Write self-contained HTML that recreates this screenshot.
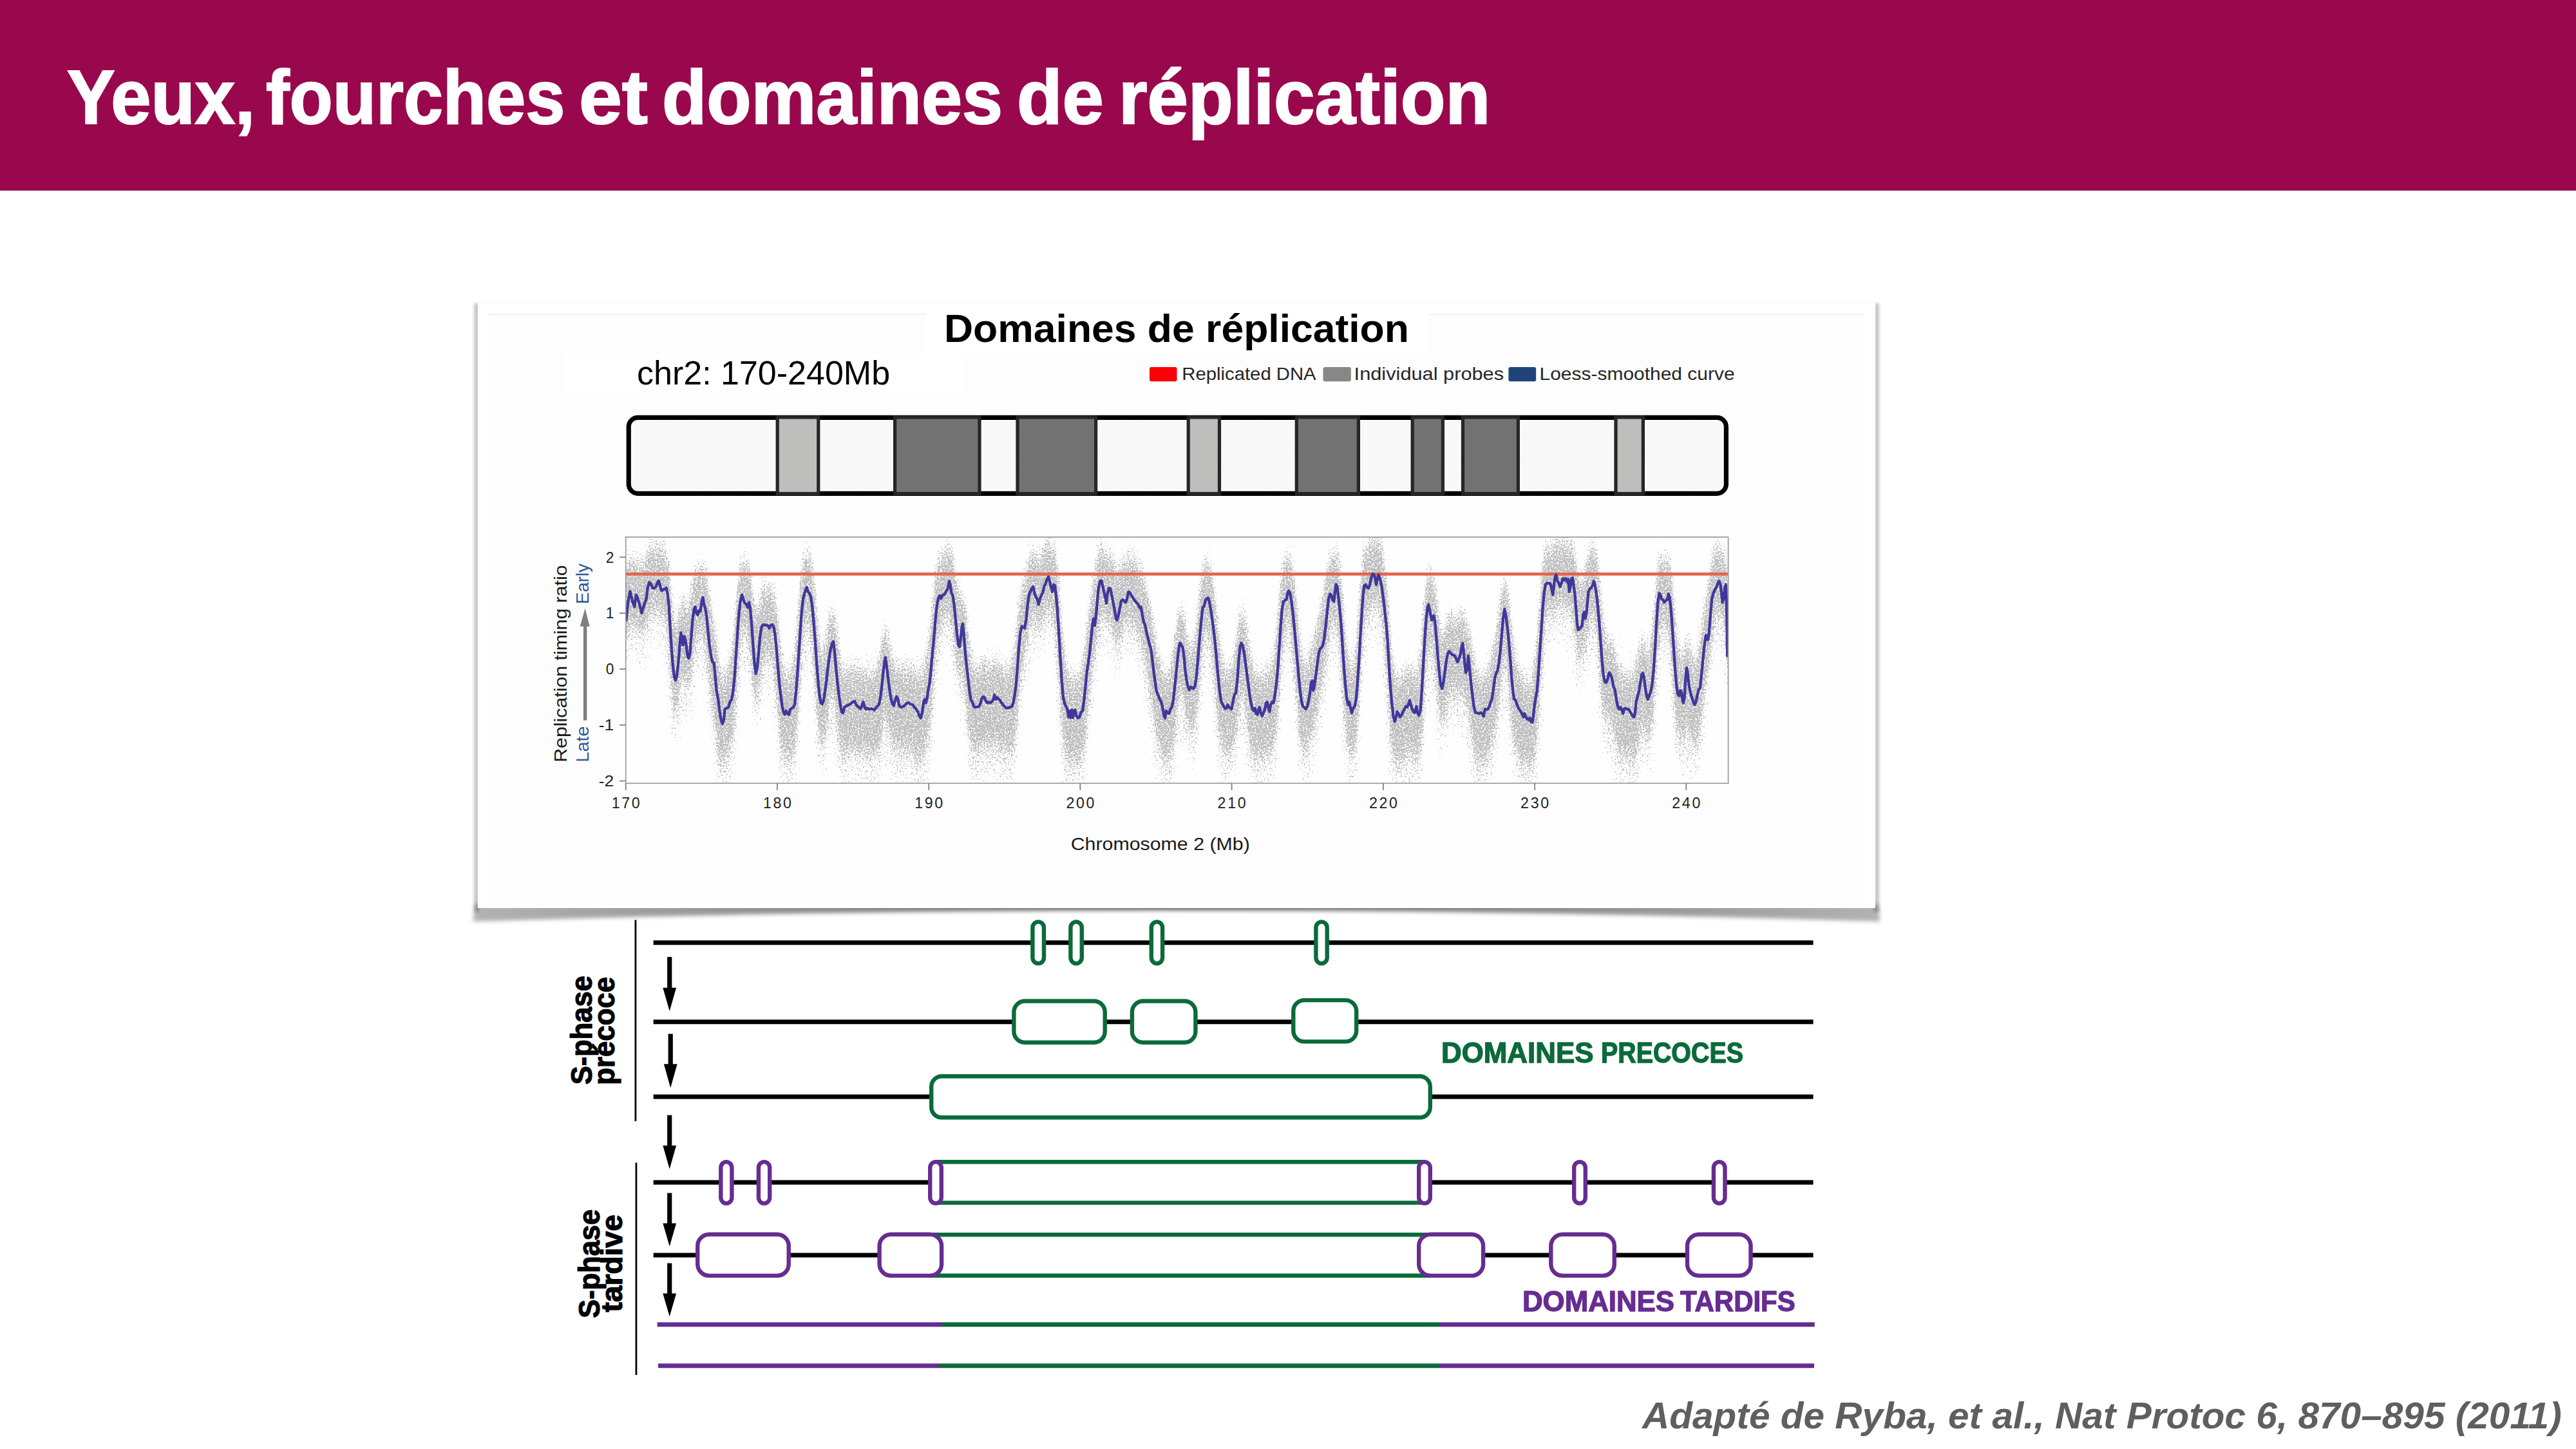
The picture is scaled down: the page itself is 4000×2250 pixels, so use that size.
<!DOCTYPE html>
<html lang="fr"><head><meta charset="utf-8"><title>Yeux, fourches et domaines de réplication</title>
<style>
html,body{margin:0;padding:0;background:#fff;}
body{width:4000px;height:2250px;position:relative;overflow:hidden;font-family:"Liberation Sans",sans-serif;}
.abs{position:absolute;white-space:nowrap;transform-origin:0 0;line-height:1;}
#hdr{left:0;top:0;width:4000px;height:296px;background:#99084d;}
.tw{font-weight:bold;color:#fff;-webkit-text-stroke:2.2px #fff;}
#tw1{left:104.21px;top:91.61px;font-size:118px;transform:scaleX(0.9470);}
#tw2{left:412.64px;top:91.61px;font-size:118px;transform:scaleX(0.9317);}
#tw3{left:898.82px;top:91.61px;font-size:118px;transform:scaleX(1.0188);}
#tw4{left:1027.86px;top:91.61px;font-size:118px;transform:scaleX(0.9605);}
#tw5{left:1578.99px;top:91.61px;font-size:118px;transform:scaleX(0.9786);}
#tw6{left:1737.23px;top:91.61px;font-size:118px;transform:scaleX(0.9676);}
#panel{left:742px;top:470px;width:2170px;height:940px;background:#fff;}
#inner{left:758px;top:487px;width:2137px;height:907px;background:#fdfdfd;border-top:2px solid #f1f1f1;box-sizing:border-box;}
#ptitle{left:1465.80px;top:479.96px;font-size:61px;transform:scaleX(1.0239);font-weight:bold;color:#000;}
#chr{left:989.38px;top:554.31px;font-size:51.5px;transform:scaleX(1.0096);color:#000;}
.dp{font-weight:bold;color:#0b6a3b;-webkit-text-stroke:1.3px #0b6a3b;}
#dp1{left:2237.99px;top:1614.09px;font-size:43.6px;transform:scaleX(1.0062);}
#dp2{left:2486.09px;top:1614.09px;font-size:43.6px;transform:scaleX(0.9028);}
.dt{font-weight:bold;color:#662d91;-webkit-text-stroke:1.3px #662d91;}
#dt1{left:2364.49px;top:1999.99px;font-size:43.6px;transform:scaleX(1.0045);}
#dt2{left:2609.40px;top:1999.99px;font-size:43.6px;transform:scaleX(0.9627);}
#cite{left:2550.27px;top:2171.17px;font-size:56.5px;transform:scaleX(1.0364);font-weight:bold;font-style:italic;color:#5f5f5f;}
svg{position:absolute;left:0;top:0;}
svg text{font-family:"Liberation Sans",sans-serif;}
</style></head><body>
<div class="abs" id="hdr"></div>
<div id="title"><span class="abs tw" id="tw1">Yeux,</span> <span class="abs tw" id="tw2">fourches</span> <span class="abs tw" id="tw3">et</span> <span class="abs tw" id="tw4">domaines</span> <span class="abs tw" id="tw5">de</span> <span class="abs tw" id="tw6">réplication</span> </div>

<svg width="4000" height="2250" viewBox="0 0 4000 2250" style="z-index:0">
<defs>
<filter id="shb" x="-5%" y="-50%" width="110%" height="300%"><feGaussianBlur stdDeviation="3.2"/></filter>
<filter id="shs" x="-200%" y="-5%" width="500%" height="110%"><feGaussianBlur stdDeviation="2.2"/></filter>
<linearGradient id="shg" x1="0" x2="1" y1="0" y2="0">
<stop offset="0" stop-color="#000" stop-opacity="0.30"/><stop offset="0.5" stop-color="#000" stop-opacity="0.62"/><stop offset="1" stop-color="#000" stop-opacity="0.30"/></linearGradient>
</defs>
<!-- curved panel shadow -->
<path d="M737 1404 L2917 1404 L2919 1431 Q1827 1396 735 1431 Z" fill="url(#shg)" filter="url(#shb)"/>
<rect x="736" y="471" width="8" height="945" fill="#000" opacity="0.22" filter="url(#shs)"/>
<rect x="742" y="469.4" width="2170" height="1.2" fill="#000" opacity="0.07"/>
<rect x="2910" y="471" width="8" height="945" fill="#000" opacity="0.22" filter="url(#shs)"/>
</svg>

<div class="abs" id="panel"></div>
<div class="abs" id="inner"></div>
<div class="abs" style="left:1437px;top:471px;width:781px;height:78px;background:#fff"></div>
<div class="abs" style="left:878px;top:549px;width:617px;height:60px;background:#fff"></div>
<div class="abs" id="ptitle">Domaines de réplication</div>
<div class="abs" id="chr">chr2: 170-240Mb</div>

<svg width="4000" height="2250" viewBox="0 0 4000 2250">
<defs>
<pattern id="hatch" width="6" height="6" patternUnits="userSpaceOnUse"><rect width="6" height="6" fill="#fbfbfb"/><path d="M-1 7 L7 -1" stroke="#f3f3f3" stroke-width="1.4"/></pattern>
<clipPath id="cclip"><rect x="971.7" y="834.0" width="1711.9" height="382.3"/></clipPath>
<filter id="spk" filterUnits="userSpaceOnUse" x="971.7" y="774.0" width="1711.9" height="502.3" color-interpolation-filters="sRGB">
<feGaussianBlur in="SourceAlpha" stdDeviation="2.5 22" result="band"/>
<feTurbulence type="fractalNoise" baseFrequency="0.43" numOctaves="2" seed="11" result="tn"/>
<feColorMatrix in="tn" type="matrix" values="0 0 0 0 0  0 0 0 0 0  0 0 0 0 0  1 0 0 0 0" result="na"/>
<feComposite in="na" in2="band" operator="arithmetic" k1="0" k2="1" k3="0.53" k4="-0.92" result="sum"/>
<feColorMatrix in="sum" type="matrix" values="0 0 0 0 0.75  0 0 0 0 0.75  0 0 0 0 0.75  0 0 0 20 0" result="dots"/>
<feGaussianBlur in="dots" stdDeviation="0.7"/>
</filter>
<filter id="spk2" filterUnits="userSpaceOnUse" x="971.7" y="774.0" width="1711.9" height="502.3" color-interpolation-filters="sRGB">
<feGaussianBlur in="SourceAlpha" stdDeviation="4 30" result="band"/>
<feTurbulence type="fractalNoise" baseFrequency="0.4" numOctaves="2" seed="5" result="tn"/>
<feColorMatrix in="tn" type="matrix" values="0 0 0 0 0  0 0 0 0 0  0 0 0 0 0  0 1 0 0 0" result="na"/>
<feComposite in="na" in2="band" operator="arithmetic" k1="0" k2="1" k3="0.36" k4="-0.95" result="sum"/>
<feColorMatrix in="sum" type="matrix" values="0 0 0 0 0.75  0 0 0 0 0.75  0 0 0 0 0.75  0 0 0 20 0" result="dots"/>
<feGaussianBlur in="dots" stdDeviation="0.7"/>
</filter>
</defs>

<!-- legend -->
<g fill="#262626">
<rect x="1785" y="570" width="42.5" height="22.3" rx="3" fill="#fb0007"/>
<text x="1835.31" y="590.3" font-size="28" textLength="208.35" lengthAdjust="spacingAndGlyphs">Replicated DNA</text>
<rect x="2054.5" y="570" width="43.3" height="22.3" rx="3" fill="#878787"/>
<text x="2102.60" y="590.3" font-size="28" textLength="232.49" lengthAdjust="spacingAndGlyphs">Individual probes</text>
<rect x="2342.4" y="570" width="42.8" height="22.3" rx="3" fill="#1f4479"/>
<text x="2390.56" y="590.3" font-size="28" textLength="303.05" lengthAdjust="spacingAndGlyphs">Loess-smoothed curve</text>
</g>

<!-- ideogram -->
<rect x="976.2" y="648.3" width="1704.2" height="118" rx="14.5" fill="url(#hatch)" stroke="#000" stroke-width="7.2"/>
<rect x="1207.2" y="648" width="63.6" height="118.5" fill="#bebfbc" stroke="#262626" stroke-width="5.2"/>
<rect x="1389.6" y="648" width="131.4" height="118.5" fill="#727272" stroke="#262626" stroke-width="5.2"/>
<rect x="1580" y="648" width="121.6" height="118.5" fill="#727272" stroke="#262626" stroke-width="5.2"/>
<rect x="1845.2" y="648" width="48.3" height="118.5" fill="#bebfbc" stroke="#262626" stroke-width="5.2"/>
<rect x="2013.3" y="648" width="96.1" height="118.5" fill="#727272" stroke="#262626" stroke-width="5.2"/>
<rect x="2193.2" y="648" width="47.2" height="118.5" fill="#727272" stroke="#262626" stroke-width="5.2"/>
<rect x="2271.5" y="648" width="85.9" height="118.5" fill="#727272" stroke="#262626" stroke-width="5.2"/>
<rect x="2509" y="648" width="42.4" height="118.5" fill="#bebfbc" stroke="#262626" stroke-width="5.2"/>

<!-- chart -->
<rect x="971.7" y="834.0" width="1711.9" height="382.3" fill="#fefefe"/>
<g clip-path="url(#cclip)">
<g filter="url(#spk2)"><path d="M947.4 891.1 L972.4 883.7 L973.8 877.1 L976 874.9 L978.5 869.6 L980.7 868.7 L982.6 867.5 L985.4 869.4 L987.6 870.7 L989.8 871.8 L991.7 873.6 L993.7 877.1 L996.4 878.3 L999.2 877.5 L1002 872.3 L1003.6 862.8 L1005.6 855.8 L1008.3 851.6 L1011.1 848.2 L1013.8 847.8 L1016.6 847.9 L1018.5 846.8 L1020.7 846.3 L1022.9 847.2 L1025.2 848.1 L1027.4 850 L1029.6 852.2 L1032.3 854.4 L1034.5 859.1 L1036.7 870.8 L1038.7 888.2 L1040.6 910.9 L1042.8 935.1 L1045 956.5 L1047 970.4 L1048.9 974.5 L1051.1 968.4 L1053.3 955.5 L1055.5 943.3 L1057.2 934.5 L1058.8 926.8 L1060.5 924.8 L1062.1 928.4 L1063.8 933.5 L1065.5 937.4 L1067.7 942.5 L1069.3 942.5 L1071.3 935.3 L1073.2 921.9 L1075.4 907 L1077.6 895.2 L1079.5 888.5 L1081.5 885.7 L1083.4 886.2 L1085.6 884.7 L1087.5 880.2 L1089.8 877.1 L1091.4 876.6 L1093.1 878.1 L1095.3 886.6 L1097.2 900.4 L1099.4 915.3 L1101.6 930.7 L1104.1 944.1 L1106.3 956.9 L1108.5 970.3 L1110.5 982.9 L1112.7 997 L1115.2 1013.4 L1117.4 1027.4 L1119.6 1035.7 L1121.8 1038.8 L1124 1038 L1125.6 1034.1 L1128.4 1027.8 L1131.2 1021.9 L1133.4 1016.8 L1136.1 1007.8 L1138.3 992.9 L1140.6 973.4 L1142.8 948.9 L1145 923.2 L1147.2 899.5 L1149.4 883 L1151.9 873.8 L1154.1 870.6 L1156 872.1 L1158.8 874.3 L1161 876.9 L1163.2 883 L1164.8 894.9 L1167.1 910.9 L1169.3 931.5 L1171.5 948.4 L1173.7 956.6 L1175.9 954.1 L1178.1 943.8 L1180.3 929.7 L1182.5 917.7 L1184.7 909.9 L1187.8 906.8 L1190.5 907 L1192.7 907.2 L1194.7 907.1 L1196.9 907.5 L1199.1 910 L1201.3 915.9 L1203.5 927.9 L1205.7 944.6 L1207.9 964.4 L1210.1 984.9 L1212.3 1003.4 L1214.5 1017.3 L1216.7 1025.5 L1218.7 1030.9 L1220.6 1033.6 L1222.8 1032.6 L1225 1030.8 L1227.2 1029.7 L1229.4 1027.2 L1231.9 1020.4 L1233.9 1010.1 L1236.1 993.9 L1238.3 971.8 L1240.5 944.8 L1242.7 918.1 L1244.9 894.4 L1247.1 875.7 L1249.9 863.8 L1252.6 858.2 L1254.8 857.8 L1257.1 862.8 L1259.3 874 L1261.5 888.4 L1263.7 908.4 L1265.9 932.5 L1268.1 957.7 L1270.3 980.5 L1272.5 998.6 L1274.7 1009.4 L1276.7 1012.5 L1278.9 1008.4 L1281.1 998.4 L1283.3 984.9 L1285.5 970 L1287.7 956.1 L1289.9 944.8 L1292.1 940.2 L1294 943.3 L1296 953 L1298.2 968 L1300.4 986.2 L1302.6 1003.6 L1304.8 1016.5 L1307 1023.7 L1309.2 1027.1 L1311.2 1027.2 L1313.4 1025 L1316.1 1022.2 L1318.9 1020.7 L1321.7 1019.2 L1324.4 1019 L1327.2 1019.5 L1329.4 1020.6 L1331.6 1022.6 L1334.1 1024.1 L1336 1023.4 L1338.2 1023.4 L1340.4 1023.9 L1342.4 1023.7 L1344.3 1024.5 L1346.5 1026.4 L1349.3 1027.2 L1352 1027.5 L1354.8 1027.5 L1357.5 1026.7 L1359.8 1025.5 L1362 1022.4 L1364.7 1016 L1366.9 1006 L1369.1 992.9 L1371.3 979.3 L1373.6 970 L1374.9 967.4 L1376.9 972.1 L1379.1 982.9 L1381.3 996.2 L1383.5 1007.5 L1385.7 1013.7 L1387.9 1015.8 L1390.1 1015.8 L1392.1 1016.3 L1394 1016.8 L1396.2 1018.7 L1399 1021.6 L1400 1023.1 L1403.3 1022.2 L1406.9 1021.3 L1410.5 1020.6 L1413.8 1020.9 L1417.1 1022.4 L1419.9 1025.1 L1422.6 1028.6 L1425.4 1032.5 L1427.6 1034 L1429.8 1032 L1432 1028.4 L1434.2 1024.5 L1435.9 1018.8 L1437.5 1012.2 L1439.5 1006.5 L1441.4 997.5 L1443.6 982.9 L1445.8 965.4 L1448 945.3 L1450.2 923.2 L1452.5 903.2 L1454.7 886.8 L1456.9 875.4 L1459.1 867.9 L1461.3 864.3 L1463.5 862.1 L1466.3 859.8 L1469 854.4 L1471.8 851.1 L1474 850.5 L1475.6 851.6 L1477.3 857.1 L1479.5 869.3 L1481.7 883.9 L1483.9 899.1 L1486.1 914 L1488.3 923.2 L1490 925.3 L1491.9 922.2 L1493.6 919.1 L1495 920.7 L1496.6 928.9 L1498.8 943.8 L1501 963.3 L1503.3 982.3 L1505.5 996.7 L1507.7 1008.3 L1509.9 1016.5 L1512.1 1021.1 L1514.6 1022.9 L1517.3 1023.4 L1520.1 1021.3 L1522.3 1018.2 L1524.2 1015.5 L1526.4 1014 L1528.7 1013.7 L1530.9 1014.5 L1533.1 1016.3 L1535.3 1017.6 L1537.5 1017.3 L1539.7 1015 L1541.9 1014.2 L1544.1 1012.7 L1546.3 1011.9 L1548.5 1011.9 L1550.7 1014.2 L1552.9 1015.8 L1555.2 1018.3 L1557.4 1020.9 L1560.1 1023.1 L1562.9 1024.4 L1565.6 1024.9 L1568.4 1023.9 L1571.2 1020 L1573.4 1013.2 L1575.6 1001.4 L1577.8 984.1 L1580 963.8 L1582.2 944.1 L1584.4 927.6 L1586.6 916.6 L1588.8 908.8 L1591 901.1 L1593.3 892.1 L1595.5 881.9 L1597.7 870.2 L1599.9 859.8 L1602.1 856 L1604.3 856.5 L1606.5 859 L1608.7 864 L1610.9 867.7 L1612.6 868.3 L1614.8 866.9 L1617 862.8 L1619.2 856.3 L1621.4 850.2 L1623.6 844.4 L1625.8 841.1 L1628 841.7 L1630.2 844.2 L1632.5 845.8 L1634.1 848.6 L1636.3 852.2 L1638 858.8 L1639.6 870.9 L1641.8 891.6 L1644 918.6 L1646.3 948.4 L1648.5 975.4 L1650.7 997.3 L1652.9 1012.7 L1655.1 1023.7 L1657.3 1027.8 L1659.5 1032.1 L1661.2 1033.1 L1662.8 1035.7 L1664.5 1033.8 L1666.1 1033.5 L1667.8 1033.1 L1669.4 1035.5 L1671.7 1035.4 L1673.9 1035.9 L1676.1 1036.2 L1678.3 1031.4 L1681 1022.2 L1683.3 1009.1 L1685.5 994.7 L1687.7 977.7 L1689.9 959.7 L1692.1 941.7 L1694.3 926.3 L1696.5 915.5 L1698.2 905.8 L1699.8 895.5 L1701.5 885.2 L1703.7 874.4 L1705.9 860.6 L1708.1 850.7 L1710.3 847.9 L1712.5 851.2 L1714.7 858.1 L1716.9 862.1 L1718 862.7 L1719.7 861.1 L1721.9 860 L1724.1 859.7 L1726.3 864.7 L1728.5 874 L1730.7 883.1 L1732.9 888.8 L1734.6 890.3 L1736.8 887.8 L1739 882.4 L1741.2 876.8 L1743.4 873.2 L1745.6 870.5 L1747.9 867.7 L1750.1 865.5 L1752.3 863.8 L1754.5 862.2 L1756.7 862.7 L1758.9 866 L1761.7 869.6 L1764.4 873.4 L1767.2 876.1 L1769.4 880.3 L1771.6 886 L1773.8 892.1 L1776 899.3 L1778.2 908.3 L1780.4 916.8 L1782.6 924.5 L1784.8 934.3 L1787.1 945.6 L1789.3 958.4 L1791.5 972.1 L1793.7 985.4 L1795.9 996.7 L1798.1 1005.5 L1800.3 1012.7 L1803.1 1019.9 L1805.3 1026.6 L1807.5 1030.2 L1809.1 1033.2 L1810.8 1035.1 L1813 1033 L1815.2 1029.9 L1817.4 1026.8 L1819.6 1019.6 L1821.8 1008 L1824 993.7 L1826.3 976.2 L1828.5 959.6 L1830.7 947.3 L1832.3 939.8 L1834.5 939.8 L1836.7 946 L1839 956.4 L1840 968.2 L1842.2 980.4 L1844.4 988.4 L1846.6 994 L1848.8 996.8 L1851 996.8 L1853.3 993.1 L1855.5 985.7 L1857.7 972.8 L1859.9 955.1 L1862.1 934 L1864.3 914 L1866.5 898 L1867.6 885.5 L1869.8 877.1 L1872 872.8 L1874.2 871.1 L1875.9 872.5 L1878.1 878.4 L1880.3 887.8 L1882.5 900.9 L1884.7 917.3 L1886.9 936.1 L1889.1 956.1 L1891.3 976.2 L1893.6 993.7 L1895.8 1007.3 L1898 1016.9 L1900.2 1022.3 L1902.4 1023.6 L1904.6 1024.7 L1906.3 1025.2 L1908.5 1025.3 L1910.7 1023.5 L1912.3 1020.6 L1914.5 1016.5 L1916.7 1008.6 L1919 994.7 L1921.2 978.7 L1923.4 963.7 L1925.6 949.9 L1927.2 941.6 L1929.4 942.2 L1931.7 949.9 L1933.9 961.8 L1936.1 976.2 L1938.3 991.1 L1940.5 1004.4 L1942.7 1015.2 L1944.9 1022.2 L1947.1 1027.6 L1948.8 1030.7 L1950.4 1030.7 L1952.6 1029.6 L1954.3 1030.9 L1956 1031.6 L1957.6 1031.1 L1959.8 1031.1 L1962 1029.8 L1964.2 1026.7 L1965.9 1024.2 L1967.5 1024 L1969.2 1022.7 L1971.4 1022.4 L1973.1 1022.7 L1975.3 1019.1 L1977.5 1011.1 L1979.7 1001.1 L1981.9 985.7 L1984.1 963.8 L1986.3 939.2 L1988.5 915.3 L1990.7 895.1 L1992.9 881 L1995.2 870.8 L1997.4 865 L1999.6 862.6 L2001.2 863.2 L2003.4 867.9 L2005.6 878.8 L2007.9 894.4 L2010.1 914 L2012.3 935.6 L2014.5 957.7 L2016.7 978.7 L2018.9 996.5 L2021.1 1009.8 L2023.3 1019.1 L2025.5 1023.5 L2027.7 1023 L2029.9 1018.6 L2032.1 1011.4 L2034.4 1003.2 L2036 998.5 L2037.7 994.4 L2039.3 989.8 L2041 984.7 L2043.2 976.9 L2045.4 964.9 L2047.6 953.8 L2049.8 945.1 L2052 937.4 L2054.2 929.1 L2056.4 918.4 L2058.7 904.2 L2060.9 889.4 L2063.1 877.1 L2065.3 869.7 L2067.5 866.6 L2069.7 864.4 L2071.3 861.4 L2073 858.7 L2074.7 857 L2076.3 859 L2078 868.9 L2080.2 886.7 L2082.4 909.9 L2084.6 935.6 L2086.8 961.8 L2089 985.2 L2091.2 1001.6 L2093.4 1013.2 L2095.1 1021.5 L2096.7 1024.3 L2099 1024.9 L2101.2 1024.3 L2103.4 1017.9 L2105.6 1003.4 L2107.8 983.1 L2110 956.6 L2112.2 926.3 L2114.4 897.8 L2116.6 875.2 L2118.3 859.6 L2120.5 851.3 L2122.7 848 L2124.9 845.5 L2127.1 842.2 L2129.3 838.4 L2131.5 835.3 L2133.7 835.3 L2135.4 835.9 L2137.1 836.2 L2138.7 836.7 L2140.4 837.5 L2142 838.6 L2143.7 844.7 L2145.9 856 L2148.1 870.7 L2150.3 888.3 L2152.5 910.9 L2154.7 936.6 L2156.9 963.3 L2159.1 990.1 L2161.3 1013.2 L2163.6 1027.6 L2165.8 1034.5 L2168 1037.6 L2169.6 1037.8 L2171.3 1035.9 L2174 1034.5 L2176.3 1033.7 L2178.5 1031.7 L2180.7 1028.9 L2182.9 1025.5 L2185.1 1022.2 L2187.3 1020.9 L2189 1021.7 L2190.6 1023 L2192.8 1025.5 L2195 1027.3 L2197.2 1029.6 L2199.4 1031.4 L2201.1 1031.2 L2203.3 1025 L2205.5 1013.4 L2207.7 992.9 L2209.9 965.4 L2212.1 935.6 L2214.4 910.5 L2216.6 894 L2218.2 886.3 L2219.9 886.3 L2221.5 888.9 L2223.2 892.1 L2224.8 895.7 L2226.5 902.4 L2228.2 912.7 L2230.4 928.6 L2232.6 948.4 L2234.8 967.7 L2237 980.5 L2239.2 985.2 L2241.4 982.1 L2243.6 973.4 L2245.8 962.6 L2248 954.1 L2250.2 949.2 L2252.5 947.4 L2254.7 947.9 L2256.9 950.2 L2259.1 952.8 L2261.3 953.8 L2263.5 953.6 L2265.7 951 L2267.9 946.4 L2269.6 943.5 L2271.2 945.3 L2272.9 950.7 L2274.5 957.4 L2276.2 962 L2277.9 963.1 L2279.5 964.6 L2280 968 L2282.2 975.7 L2284.4 989.5 L2286.6 1006 L2288.8 1018.4 L2291 1026.9 L2293.8 1031.5 L2296.6 1033.3 L2299.3 1034.4 L2301.5 1033.2 L2303.7 1032.1 L2306 1031 L2308.2 1029 L2310.4 1024.9 L2312.6 1021.8 L2314.8 1015.5 L2317 1006.2 L2319.2 996.5 L2321.4 987.5 L2323.6 977.2 L2325.3 966.4 L2327.5 954.1 L2329.7 938.4 L2331.9 920.6 L2334.1 907.2 L2336.3 900.5 L2338.5 902.6 L2340.7 914.4 L2342.9 934.5 L2345.2 956.6 L2347.4 977.5 L2349.6 994.4 L2351.2 1007.5 L2353.4 1016 L2355.6 1020.9 L2357.9 1024.8 L2360.1 1028.9 L2362.3 1032.5 L2363.9 1034 L2365.6 1035.9 L2367.2 1037.8 L2368.9 1039.5 L2371.1 1039.8 L2373.3 1042.3 L2375.5 1044.2 L2377.2 1043.4 L2379.4 1038.9 L2381 1033 L2382.7 1024.2 L2384.4 1010.1 L2386.6 991.6 L2388.8 970 L2391 944.3 L2393.2 916 L2395.4 890.3 L2397.6 870.2 L2399.8 855.4 L2402 847.4 L2404.8 845.8 L2407.5 849 L2409.2 849.4 L2411.4 847.4 L2413.1 844.6 L2414.7 842.1 L2416.4 838.4 L2418 839 L2420.2 841 L2422.5 842.1 L2424.7 842.1 L2426.9 840.7 L2429.1 839.2 L2431.3 838.1 L2433.5 842.2 L2435.2 844.2 L2436.8 844.2 L2438.5 842.9 L2440.1 844.6 L2441.8 845.7 L2443.4 852.8 L2445.6 866.9 L2447.3 882.4 L2449 895.1 L2450.6 904.4 L2452.8 909 L2455 906.4 L2456.7 901.3 L2458.3 898.3 L2460 894.2 L2461.7 887.5 L2463.3 880.8 L2465 874 L2466.6 864.6 L2468.8 855.8 L2471 849.1 L2473.3 846.9 L2474.9 848.5 L2476.6 854.1 L2478.8 865.7 L2481 883.7 L2483.2 905.8 L2485.4 929.4 L2487.6 951.4 L2489.8 968.9 L2492 979.7 L2494.2 983 L2496.4 982.8 L2498.7 981.8 L2500.9 982.9 L2503.1 985.9 L2505.3 993.4 L2507.5 1002.7 L2509.7 1011.4 L2511.9 1017.6 L2514.1 1023.5 L2516.3 1027.8 L2518.5 1028.6 L2520.2 1028.4 L2521.8 1028.9 L2524 1028.6 L2526.3 1027.8 L2528.5 1029.1 L2530.7 1031.4 L2532.9 1033.7 L2535.1 1034.8 L2537.3 1032.2 L2539 1027.3 L2540.6 1020.1 L2542.8 1010.1 L2545 999.1 L2547.2 990.7 L2549.4 985.1 L2551.1 983.5 L2552.8 987.1 L2554.4 994.3 L2556.6 1000.9 L2558.8 1005 L2561 1004.4 L2563.3 997.3 L2565.5 982.6 L2567.7 961.8 L2569.9 936.1 L2572.1 909.8 L2574.3 887.9 L2576.5 873.4 L2578.2 866 L2579.8 866 L2582 868.3 L2584.2 870 L2586.4 868.6 L2588.7 867.7 L2590.9 868.8 L2592.5 875.8 L2594.2 888.9 L2596.4 909.9 L2598.6 935.1 L2600.8 960.5 L2603 981.3 L2605.2 994.4 L2607.4 1001.6 L2609.1 1006 L2610.7 1008.6 L2612.4 1008.8 L2614 1005.5 L2615.7 998.7 L2617.4 991.2 L2619 985.8 L2620.7 984.3 L2622.3 989.4 L2624.5 999.1 L2626.7 1008 L2629 1013.2 L2631.2 1014.2 L2633.4 1012.2 L2635.6 1008.3 L2637.8 999.3 L2640 987 L2642.2 972.6 L2644.4 956.9 L2646.6 942.5 L2648.8 932.7 L2650.5 925 L2652.1 916.3 L2653.8 905.8 L2656 892.9 L2658.2 878.5 L2660.4 865 L2662.6 855.4 L2664.8 849.9 L2667.1 847.1 L2669.3 848.2 L2671.5 852.7 L2673.1 857.4 L2674.8 859.6 L2676.4 859.6 L2678.1 862.4 L2679.8 871.2 L2680.9 887.8 L2681.7 896.5 L2682.2 912.8 L2707.2 871.2 L2707.2 1031.2 L2682.2 1086.7 L2681.7 1064.8 L2680.9 1053 L2679.8 1031.2 L2678.1 1022.4 L2676.4 1019.6 L2674.8 1019.6 L2673.1 1017.4 L2671.5 1012.7 L2669.3 1008.2 L2667.1 1007.1 L2664.8 1009.9 L2662.6 1015.4 L2660.4 1025 L2658.2 1040.6 L2656 1059.9 L2653.8 1077.2 L2652.1 1091.4 L2650.5 1103.2 L2648.8 1113.6 L2646.6 1126.7 L2644.4 1146.1 L2642.2 1167.2 L2640 1186.6 L2637.8 1203.2 L2635.6 1215.3 L2633.4 1220.5 L2631.2 1223.2 L2629 1221.8 L2626.7 1214.9 L2624.5 1202.8 L2622.3 1189.9 L2620.7 1183 L2619 1185 L2617.4 1192.3 L2615.7 1202.3 L2614 1211.5 L2612.4 1216 L2610.7 1215.6 L2609.1 1212.2 L2607.4 1206.3 L2605.2 1196.6 L2603 1178.9 L2600.8 1150.9 L2598.6 1116.7 L2596.4 1082.8 L2594.2 1054.5 L2592.5 1036.9 L2590.9 1028.8 L2588.7 1027.7 L2586.4 1028.6 L2584.2 1030 L2582 1028.3 L2579.8 1026 L2578.2 1026 L2576.5 1033.7 L2574.3 1053.2 L2572.1 1082.6 L2569.9 1118 L2567.7 1152.6 L2565.5 1180.7 L2563.3 1200.4 L2561 1210.1 L2558.8 1210.8 L2556.6 1205.2 L2554.4 1196.4 L2552.8 1186.8 L2551.1 1181.9 L2549.4 1184 L2547.2 1191.6 L2545 1202.8 L2542.8 1217.7 L2540.6 1231.2 L2539 1240.9 L2537.3 1247.4 L2535.1 1250.8 L2532.9 1249.5 L2530.7 1246.4 L2528.5 1243.3 L2526.3 1241.6 L2524 1242.6 L2521.8 1242.9 L2520.2 1242.3 L2518.5 1242.6 L2516.3 1241.6 L2514.1 1235.7 L2511.9 1227.7 L2509.7 1219.4 L2507.5 1207.7 L2505.3 1195.2 L2503.1 1185.2 L2500.9 1181 L2498.7 1179.6 L2496.4 1180.9 L2494.2 1181.2 L2492 1176.7 L2489.8 1162.2 L2487.6 1138.7 L2485.4 1109.1 L2483.2 1077.2 L2481 1047.5 L2478.8 1025.7 L2476.6 1014.1 L2474.9 1008.5 L2473.3 1006.9 L2471 1009.1 L2468.8 1015.8 L2466.6 1024.6 L2465 1034.5 L2463.3 1043.7 L2461.7 1052.7 L2460 1061.7 L2458.3 1067.2 L2456.7 1071.2 L2455 1078.1 L2452.8 1081.6 L2450.6 1075.4 L2449 1062.9 L2447.3 1045.7 L2445.6 1026.9 L2443.4 1012.8 L2441.8 1005.7 L2440.1 1004.6 L2438.5 1002.9 L2436.8 1004.2 L2435.2 1004.2 L2433.5 1002.2 L2431.3 998.1 L2429.1 999.2 L2426.9 1000.7 L2424.7 1002.1 L2422.5 1002.1 L2420.2 1001 L2418 999 L2416.4 998.4 L2414.7 1002.1 L2413.1 1004.6 L2411.4 1007.4 L2409.2 1009.4 L2407.5 1009 L2404.8 1005.8 L2402 1007.4 L2399.8 1015.4 L2397.6 1030.2 L2395.4 1056.5 L2393.2 1091.1 L2391 1129.1 L2388.8 1163.7 L2386.6 1192.8 L2384.4 1217.7 L2382.7 1236.7 L2381 1248.5 L2379.4 1254.9 L2377.2 1259.4 L2375.5 1260.2 L2373.3 1258.3 L2371.1 1255.8 L2368.9 1255.5 L2367.2 1253.8 L2365.6 1251.9 L2363.9 1249.9 L2362.3 1247.8 L2360.1 1242.9 L2357.9 1237.4 L2355.6 1232.2 L2353.4 1225.6 L2351.2 1214.2 L2349.6 1196.6 L2347.4 1173.8 L2345.2 1145.7 L2342.9 1116 L2340.7 1088.9 L2338.5 1072.9 L2336.3 1070.2 L2334.1 1079.2 L2331.9 1097.2 L2329.7 1121.2 L2327.5 1142.3 L2325.3 1158.9 L2323.6 1173.4 L2321.4 1187.2 L2319.2 1199.4 L2317 1212.5 L2314.8 1225 L2312.6 1233.4 L2310.4 1237.5 L2308.2 1243.1 L2306 1245.8 L2303.7 1247.2 L2301.5 1248.8 L2299.3 1250.3 L2296.6 1249 L2293.8 1246.5 L2291 1240.3 L2288.8 1228.9 L2286.6 1212.2 L2284.4 1190 L2282.2 1171.3 L2280 1160.9 L2279.5 1156.5 L2277.9 1154.4 L2276.2 1153 L2274.5 1146.8 L2272.9 1137.8 L2271.2 1130.5 L2269.6 1128.1 L2267.9 1131.9 L2265.7 1138.1 L2263.5 1141.6 L2261.3 1141.9 L2259.1 1140.5 L2256.9 1137.1 L2254.7 1134 L2252.5 1133.3 L2250.2 1135.7 L2248 1142.3 L2245.8 1153.7 L2243.6 1168.2 L2241.4 1180 L2239.2 1184.1 L2237 1177.9 L2234.8 1160.6 L2232.6 1134.7 L2230.4 1108 L2228.2 1086.6 L2226.5 1072.7 L2224.8 1063.7 L2223.2 1058.9 L2221.5 1054.5 L2219.9 1051.1 L2218.2 1051.1 L2216.6 1061.5 L2214.4 1083.6 L2212.1 1117.4 L2209.9 1157.5 L2207.7 1194.5 L2205.5 1222.2 L2203.3 1237.8 L2201.1 1246.1 L2199.4 1246.4 L2197.2 1244 L2195 1240.9 L2192.8 1238.4 L2190.6 1235 L2189 1233.3 L2187.3 1232.2 L2185.1 1233.9 L2182.9 1238.4 L2180.7 1242.9 L2178.5 1246.7 L2176.3 1249.5 L2174 1250.5 L2171.3 1251.9 L2169.6 1253.8 L2168 1253.6 L2165.8 1250.5 L2163.6 1241.2 L2161.3 1221.8 L2159.1 1190.7 L2156.9 1154.7 L2154.7 1118.7 L2152.5 1084.1 L2150.3 1053.7 L2148.1 1030.7 L2145.9 1016 L2143.7 1004.7 L2142 998.6 L2140.4 997.5 L2138.7 996.7 L2137.1 996.2 L2135.4 995.9 L2133.7 995.3 L2131.5 995.3 L2129.3 998.4 L2127.1 1002.2 L2124.9 1005.5 L2122.7 1008 L2120.5 1011.3 L2118.3 1019.6 L2116.6 1036.1 L2114.4 1066.5 L2112.2 1104.9 L2110 1145.7 L2107.8 1181.4 L2105.6 1208.7 L2103.4 1228.2 L2101.2 1236.9 L2099 1237.5 L2096.7 1236.9 L2095.1 1233 L2093.4 1221.8 L2091.2 1206.3 L2089 1184.1 L2086.8 1152.6 L2084.6 1117.4 L2082.4 1082.8 L2080.2 1051.6 L2078 1028.9 L2076.3 1019 L2074.7 1017 L2073 1018.7 L2071.3 1021.4 L2069.7 1024.4 L2067.5 1026.6 L2065.3 1029.7 L2063.1 1038.6 L2060.9 1055.2 L2058.7 1075.2 L2056.4 1094.2 L2054.2 1108.7 L2052 1119.8 L2049.8 1130.2 L2047.6 1141.9 L2045.4 1156.8 L2043.2 1173.1 L2041 1183.4 L2039.3 1190.4 L2037.7 1196.6 L2036 1202.1 L2034.4 1208.3 L2032.1 1219.4 L2029.9 1229.1 L2027.7 1235 L2025.5 1235.7 L2023.3 1229.8 L2021.1 1217.3 L2018.9 1199.4 L2016.7 1175.5 L2014.5 1147.1 L2012.3 1117.4 L2010.1 1088.3 L2007.9 1062 L2005.6 1040.9 L2003.4 1027.9 L2001.2 1023.2 L1999.6 1022.6 L1997.4 1025 L1995.2 1030.8 L1992.9 1043.9 L1990.7 1062.9 L1988.5 1090 L1986.3 1122.2 L1984.1 1155.4 L1981.9 1184.8 L1979.7 1205.6 L1977.5 1219.1 L1975.3 1229.8 L1973.1 1234.6 L1971.4 1234.3 L1969.2 1234.6 L1967.5 1236.4 L1965.9 1236.7 L1964.2 1240 L1962 1244.2 L1959.8 1245.9 L1957.6 1245.9 L1956 1246.6 L1954.3 1245.7 L1952.6 1244 L1950.4 1245.4 L1948.8 1245.4 L1947.1 1241.2 L1944.9 1233.9 L1942.7 1224.6 L1940.5 1210.1 L1938.3 1192.1 L1936.1 1172 L1933.9 1152.6 L1931.7 1136.6 L1929.4 1126.2 L1927.2 1125.5 L1925.6 1136.6 L1923.4 1155.3 L1921.2 1175.5 L1919 1196.9 L1916.7 1215.6 L1914.5 1226.3 L1912.3 1231.9 L1910.7 1235.7 L1908.5 1238.1 L1906.3 1238 L1904.6 1237.3 L1902.4 1235.9 L1900.2 1234.2 L1898 1226.9 L1895.8 1213.9 L1893.6 1195.5 L1891.3 1172 L1889.1 1145 L1886.9 1118 L1884.7 1092.8 L1882.5 1070.7 L1880.3 1053 L1878.1 1040.4 L1875.9 1032.5 L1874.2 1031.1 L1872 1032.8 L1869.8 1038.7 L1867.6 1049.9 L1866.5 1066.8 L1864.3 1088.3 L1862.1 1115.3 L1859.9 1143.7 L1857.7 1167.5 L1855.5 1184.8 L1853.3 1194.9 L1851 1199.8 L1848.8 1199.8 L1846.6 1196 L1844.4 1188.4 L1842.2 1177.7 L1840 1161.3 L1839 1145.4 L1836.7 1131.4 L1834.5 1123.1 L1832.3 1123.1 L1830.7 1133.1 L1828.5 1149.7 L1826.3 1172 L1824 1195.5 L1821.8 1214.9 L1819.6 1230.5 L1817.4 1240.2 L1815.2 1244.3 L1813 1248.5 L1810.8 1251.1 L1809.1 1248.8 L1807.5 1244.7 L1805.3 1239.8 L1803.1 1230.8 L1800.3 1221.1 L1798.1 1211.5 L1795.9 1199.7 L1793.7 1184.5 L1791.5 1166.5 L1789.3 1148.1 L1787.1 1130.9 L1784.8 1115.6 L1782.6 1102.5 L1780.4 1092.1 L1778.2 1080.7 L1776 1068.6 L1773.8 1058.9 L1771.6 1050.6 L1769.4 1043 L1767.2 1037.3 L1764.4 1033.6 L1761.7 1029.6 L1758.9 1026 L1756.7 1022.7 L1754.5 1022.2 L1752.3 1023.8 L1750.1 1025.5 L1747.9 1027.7 L1745.6 1030.5 L1743.4 1033.4 L1741.2 1038.3 L1739 1045.7 L1736.8 1053 L1734.6 1056.5 L1732.9 1054.4 L1730.7 1046.8 L1728.5 1034.5 L1726.3 1024.7 L1724.1 1019.7 L1721.9 1020 L1719.7 1021.1 L1718 1022.7 L1716.9 1022.1 L1714.7 1018.1 L1712.5 1011.2 L1710.3 1007.9 L1708.1 1010.7 L1705.9 1020.6 L1703.7 1035 L1701.5 1049.5 L1699.8 1063.4 L1698.2 1077.2 L1696.5 1090.4 L1694.3 1104.9 L1692.1 1125.7 L1689.9 1149.9 L1687.7 1174.1 L1685.5 1196.9 L1683.3 1216.3 L1681 1233.9 L1678.3 1246.4 L1676.1 1252.2 L1673.9 1251.9 L1671.7 1251.4 L1669.4 1251.5 L1667.8 1248.7 L1666.1 1249.2 L1664.5 1249.6 L1662.8 1251.7 L1661.2 1248.7 L1659.5 1247.3 L1657.3 1241.6 L1655.1 1236 L1652.9 1221.1 L1650.7 1200.4 L1648.5 1171 L1646.3 1134.7 L1644 1094.5 L1641.8 1058.2 L1639.6 1030.9 L1638 1018.8 L1636.3 1012.2 L1634.1 1008.6 L1632.5 1005.8 L1630.2 1004.2 L1628 1001.7 L1625.8 1001.1 L1623.6 1004.4 L1621.4 1010.2 L1619.2 1016.3 L1617 1022.8 L1614.8 1026.9 L1612.6 1028.3 L1610.9 1027.7 L1608.7 1024 L1606.5 1019 L1604.3 1016.5 L1602.1 1016 L1599.9 1019.8 L1597.7 1030.2 L1595.5 1045.1 L1593.3 1058.9 L1591 1071 L1588.8 1081.4 L1586.6 1091.8 L1584.4 1106.6 L1582.2 1128.8 L1580 1155.4 L1577.8 1182.7 L1575.6 1205.9 L1573.4 1221.8 L1571.2 1231 L1568.4 1236.2 L1565.6 1237.6 L1562.9 1236.9 L1560.1 1235.2 L1557.4 1232.2 L1555.2 1228.8 L1552.9 1225.3 L1550.7 1223.2 L1548.5 1220.1 L1546.3 1220.1 L1544.1 1221.1 L1541.9 1223.2 L1539.7 1224.3 L1537.5 1227.4 L1535.3 1227.7 L1533.1 1226 L1530.9 1223.6 L1528.7 1222.5 L1526.4 1222.9 L1524.2 1225 L1522.3 1228.6 L1520.1 1232.8 L1517.3 1235.5 L1514.6 1234.8 L1512.1 1232.4 L1509.9 1226.3 L1507.7 1215.3 L1505.5 1199.7 L1503.3 1180.3 L1501 1154.7 L1498.8 1128.4 L1496.6 1108.4 L1495 1097.3 L1493.6 1095.2 L1491.9 1099.4 L1490 1103.5 L1488.3 1100.8 L1486.1 1088.3 L1483.9 1068.2 L1481.7 1047.8 L1479.5 1029.3 L1477.3 1017.1 L1475.6 1011.6 L1474 1010.5 L1471.8 1011.1 L1469 1014.4 L1466.3 1019.8 L1463.5 1022.1 L1461.3 1024.3 L1459.1 1027.9 L1456.9 1036.4 L1454.7 1051.8 L1452.5 1073.8 L1450.2 1100.8 L1448 1130.5 L1445.8 1157.5 L1443.6 1181 L1441.4 1200.7 L1439.5 1212.8 L1437.5 1220.5 L1435.9 1229.5 L1434.2 1237.1 L1432 1242.3 L1429.8 1247.1 L1427.6 1249.9 L1425.4 1247.8 L1422.6 1242.6 L1419.9 1237.9 L1417.1 1234.3 L1413.8 1232.2 L1410.5 1231.9 L1406.9 1232.8 L1403.3 1234 L1400 1235.2 L1399 1233.1 L1396.2 1229.3 L1394 1226.7 L1392.1 1226 L1390.1 1225.3 L1387.9 1225.3 L1385.7 1222.5 L1383.5 1214.2 L1381.3 1199 L1379.1 1181 L1376.9 1166.5 L1374.9 1160.3 L1373.6 1163.7 L1371.3 1176.2 L1369.1 1194.5 L1366.9 1212.2 L1364.7 1225.6 L1362 1234.3 L1359.8 1238.4 L1357.5 1240 L1354.8 1241.1 L1352 1241.1 L1349.3 1240.7 L1346.5 1239.7 L1344.3 1237.1 L1342.4 1236 L1340.4 1236.2 L1338.2 1235.5 L1336 1235.5 L1334.1 1236.6 L1331.6 1234.5 L1329.4 1231.9 L1327.2 1230.4 L1324.4 1229.7 L1321.7 1229.9 L1318.9 1231.9 L1316.1 1234 L1313.4 1237.8 L1311.2 1240.7 L1309.2 1240.5 L1307 1236 L1304.8 1226.3 L1302.6 1208.9 L1300.4 1185.5 L1298.2 1160.9 L1296 1140.9 L1294 1127.7 L1292.1 1123.6 L1289.9 1129.8 L1287.7 1145 L1285.5 1163.7 L1283.3 1183.8 L1281.1 1201.9 L1278.9 1215.4 L1276.7 1220.9 L1274.7 1216.8 L1272.5 1202.3 L1270.3 1177.9 L1268.1 1147.1 L1265.9 1113.2 L1263.7 1080.8 L1261.5 1053.8 L1259.3 1034.5 L1257.1 1022.8 L1254.8 1017.8 L1252.6 1018.2 L1249.9 1023.8 L1247.1 1036.7 L1244.9 1062 L1242.7 1093.8 L1240.5 1129.8 L1238.3 1166.1 L1236.1 1195.9 L1233.9 1217.7 L1231.9 1231.5 L1229.4 1240.7 L1227.2 1244.1 L1225 1245.5 L1222.8 1247.9 L1220.6 1249.3 L1218.7 1245.7 L1216.7 1238.4 L1214.5 1227.4 L1212.3 1208.7 L1210.1 1183.8 L1207.9 1156.1 L1205.7 1129.5 L1203.5 1107 L1201.3 1090.9 L1199.1 1083 L1196.9 1079.5 L1194.7 1079 L1192.7 1079.2 L1190.5 1079 L1187.8 1078.6 L1184.7 1082.8 L1182.5 1093.3 L1180.3 1109.4 L1178.1 1128.4 L1175.9 1142.3 L1173.7 1145.7 L1171.5 1134.7 L1169.3 1111.8 L1167.1 1084.1 L1164.8 1062.6 L1163.2 1046.6 L1161 1038.3 L1158.8 1034.9 L1156 1032.1 L1154.1 1030.6 L1151.9 1034.2 L1149.4 1046.6 L1147.2 1068.8 L1145 1100.8 L1142.8 1135.3 L1140.6 1168.2 L1138.3 1194.5 L1136.1 1214.6 L1133.4 1226.7 L1131.2 1233.6 L1128.4 1241.6 L1125.6 1250 L1124 1254 L1121.8 1254.8 L1119.6 1251.7 L1117.4 1241 L1115.2 1222.2 L1112.7 1200 L1110.5 1181 L1108.5 1164.1 L1106.3 1146.1 L1104.1 1128.8 L1101.6 1110.8 L1099.4 1090 L1097.2 1070 L1095.3 1051.4 L1093.1 1040 L1091.4 1037.9 L1089.8 1038.6 L1087.5 1042.8 L1085.6 1048.9 L1083.4 1050.9 L1081.5 1050.2 L1079.5 1054 L1077.6 1063 L1075.4 1079 L1073.2 1099 L1071.3 1117 L1069.3 1126.7 L1067.7 1126.7 L1065.5 1119.8 L1063.8 1114.6 L1062.1 1107.7 L1060.5 1102.8 L1058.8 1105.6 L1057.2 1116 L1055.5 1127.7 L1053.3 1144.2 L1051.1 1161.5 L1048.9 1169.8 L1047 1164.3 L1045 1145.6 L1042.8 1116.7 L1040.6 1084.1 L1038.7 1053.6 L1036.7 1030.8 L1034.5 1019.1 L1032.3 1014.4 L1029.6 1012.2 L1027.4 1010 L1025.2 1008.1 L1022.9 1007.2 L1020.7 1006.3 L1018.5 1006.8 L1016.6 1007.9 L1013.8 1007.8 L1011.1 1008.2 L1008.3 1011.6 L1005.6 1015.8 L1003.6 1022.8 L1002 1032.3 L999.2 1039.2 L996.4 1040.2 L993.7 1038.6 L991.7 1034 L989.8 1031.8 L987.6 1030.7 L985.4 1029.4 L982.6 1027.5 L980.7 1028.7 L978.5 1029.6 L976 1035.7 L973.8 1038.7 L972.4 1047.5 L947.4 1057.5Z" fill="#000" stroke="#000" stroke-width="10" stroke-linejoin="round"/></g>
<g filter="url(#spk)"><path d="M947.4 883.2 L972.4 874.9 L973.8 867.6 L976 865.2 L978.5 859.6 L980.7 858.7 L982.6 857.5 L985.4 859.4 L987.6 860.7 L989.8 861.8 L991.7 863.7 L993.7 867.6 L996.4 868.9 L999.2 868 L1002 862.3 L1003.6 852.8 L1005.6 845.8 L1008.3 841.6 L1011.1 838.2 L1013.8 837.8 L1016.6 837.9 L1018.5 836.8 L1020.7 836.3 L1022.9 837.2 L1025.2 838.1 L1027.4 840 L1029.6 842.2 L1032.3 844.4 L1034.5 849.1 L1036.7 860.8 L1038.7 879.9 L1040.6 905.2 L1042.8 932 L1045 955.9 L1047 971.3 L1048.9 975.9 L1051.1 969 L1053.3 954.7 L1055.5 941.1 L1057.2 931.4 L1058.8 922.9 L1060.5 920.6 L1062.1 924.6 L1063.8 930.3 L1065.5 934.6 L1067.7 940.3 L1069.3 940.3 L1071.3 932.3 L1073.2 917.4 L1075.4 900.9 L1077.6 887.7 L1079.5 880.3 L1081.5 877.2 L1083.4 877.7 L1085.6 876 L1087.5 871 L1089.8 867.6 L1091.4 867 L1093.1 868.7 L1095.3 878.1 L1097.2 893.4 L1099.4 910 L1101.6 927.1 L1104.1 942 L1106.3 956.3 L1108.5 971.1 L1110.5 985.1 L1112.7 1000.8 L1115.2 1019.1 L1117.4 1034.6 L1119.6 1043.7 L1121.8 1046.8 L1124 1046 L1125.6 1042.1 L1128.4 1035.1 L1131.2 1028.5 L1133.4 1022.8 L1136.1 1012.8 L1138.3 996.3 L1140.6 974.6 L1142.8 947.4 L1145 918.9 L1147.2 892.5 L1149.4 874.2 L1151.9 863.9 L1154.1 860.6 L1156 862.1 L1158.8 864.5 L1161 867.3 L1163.2 874.2 L1164.8 887.3 L1167.1 905.2 L1169.3 928 L1171.5 946.9 L1173.7 956 L1175.9 953.1 L1178.1 941.7 L1180.3 926 L1182.5 912.7 L1184.7 904 L1187.8 900.6 L1190.5 900.9 L1192.7 901 L1194.7 900.9 L1196.9 901.3 L1199.1 904.2 L1201.3 910.8 L1203.5 924 L1205.7 942.6 L1207.9 964.6 L1210.1 987.4 L1212.3 1008 L1214.5 1023.4 L1216.7 1032.5 L1218.7 1038.5 L1220.6 1041.5 L1222.8 1040.4 L1225 1038.4 L1227.2 1037.2 L1229.4 1034.4 L1231.9 1026.8 L1233.9 1015.4 L1236.1 997.4 L1238.3 972.8 L1240.5 942.9 L1242.7 913.2 L1244.9 886.9 L1247.1 866 L1249.9 853.8 L1252.6 848.2 L1254.8 847.8 L1257.1 852.8 L1259.3 864.1 L1261.5 880.1 L1263.7 902.4 L1265.9 929.1 L1268.1 957.1 L1270.3 982.6 L1272.5 1002.7 L1274.7 1014.7 L1276.7 1018.1 L1278.9 1013.5 L1281.1 1002.4 L1283.3 987.4 L1285.5 970.8 L1287.7 955.4 L1289.9 942.9 L1292.1 937.7 L1294 941.1 L1296 952 L1298.2 968.6 L1300.4 988.8 L1302.6 1008.1 L1304.8 1022.5 L1307 1030.5 L1309.2 1034.2 L1311.2 1034.4 L1313.4 1032 L1316.1 1028.9 L1318.9 1027.2 L1321.7 1025.5 L1324.4 1025.3 L1327.2 1025.9 L1329.4 1027.1 L1331.6 1029.3 L1334.1 1031 L1336 1030.1 L1338.2 1030.1 L1340.4 1030.7 L1342.4 1030.5 L1344.3 1031.4 L1346.5 1033.6 L1349.3 1034.4 L1352 1034.7 L1354.8 1034.7 L1357.5 1033.8 L1359.8 1032.5 L1362 1029.1 L1364.7 1022 L1366.9 1010.8 L1369.1 996.3 L1371.3 981.1 L1373.6 970.8 L1374.9 968 L1376.9 973.1 L1379.1 985.1 L1381.3 1000 L1383.5 1012.5 L1385.7 1019.4 L1387.9 1021.7 L1390.1 1021.7 L1392.1 1022.3 L1394 1022.8 L1396.2 1025 L1399 1028.1 L1400 1029.9 L1403.3 1028.9 L1406.9 1027.9 L1410.5 1027.1 L1413.8 1027.4 L1417.1 1029.1 L1419.9 1032.1 L1422.6 1036 L1425.4 1040.2 L1427.6 1042 L1429.8 1039.7 L1432 1035.7 L1434.2 1031.4 L1435.9 1025.1 L1437.5 1017.7 L1439.5 1011.4 L1441.4 1001.4 L1443.6 985.1 L1445.8 965.7 L1448 943.4 L1450.2 918.9 L1452.5 896.6 L1454.7 878.4 L1456.9 865.7 L1459.1 857.9 L1461.3 854.3 L1463.5 852.1 L1466.3 849.8 L1469 844.4 L1471.8 841.1 L1474 840.5 L1475.6 841.6 L1477.3 847.1 L1479.5 859.3 L1481.7 875.2 L1483.9 892 L1486.1 908.6 L1488.3 918.9 L1490 921.1 L1491.9 917.7 L1493.6 914.3 L1495 916 L1496.6 925.1 L1498.8 941.7 L1501 963.4 L1503.3 984.6 L1505.5 1000.5 L1507.7 1013.4 L1509.9 1022.5 L1512.1 1027.6 L1514.6 1029.6 L1517.3 1030.1 L1520.1 1027.9 L1522.3 1024.4 L1524.2 1021.4 L1526.4 1019.7 L1528.7 1019.4 L1530.9 1020.3 L1533.1 1022.3 L1535.3 1023.7 L1537.5 1023.4 L1539.7 1020.8 L1541.9 1020 L1544.1 1018.3 L1546.3 1017.4 L1548.5 1017.4 L1550.7 1020 L1552.9 1021.7 L1555.2 1024.5 L1557.4 1027.4 L1560.1 1029.9 L1562.9 1031.3 L1565.6 1031.8 L1568.4 1030.7 L1571.2 1026.4 L1573.4 1018.8 L1575.6 1005.7 L1577.8 986.6 L1580 964 L1582.2 942 L1584.4 923.7 L1586.6 911.4 L1588.8 902.9 L1591 894.3 L1593.3 884.3 L1595.5 872.9 L1597.7 860.2 L1599.9 849.8 L1602.1 846 L1604.3 846.5 L1606.5 849 L1608.7 854 L1610.9 857.7 L1612.6 858.3 L1614.8 856.9 L1617 852.8 L1619.2 846.3 L1621.4 840.2 L1623.6 834.4 L1625.8 831.1 L1628 831.7 L1630.2 834.2 L1632.5 835.8 L1634.1 838.6 L1636.3 842.2 L1638 848.8 L1639.6 860.9 L1641.8 883.7 L1644 913.7 L1646.3 946.9 L1648.5 976.8 L1650.7 1001.1 L1652.9 1018.3 L1655.1 1030.5 L1657.3 1035.1 L1659.5 1039.8 L1661.2 1041 L1662.8 1043.7 L1664.5 1041.7 L1666.1 1041.4 L1667.8 1041 L1669.4 1043.5 L1671.7 1043.4 L1673.9 1043.9 L1676.1 1044.2 L1678.3 1039.1 L1681 1028.8 L1683.3 1014.3 L1685.5 998.3 L1687.7 979.4 L1689.9 959.4 L1692.1 939.4 L1694.3 922.3 L1696.5 910.3 L1698.2 899.4 L1699.8 888 L1701.5 876.6 L1703.7 864.6 L1705.9 850.6 L1708.1 840.7 L1710.3 837.9 L1712.5 841.2 L1714.7 848.1 L1716.9 852.1 L1718 852.7 L1719.7 851.1 L1721.9 850 L1724.1 849.7 L1726.3 854.7 L1728.5 864.1 L1730.7 874.3 L1732.9 880.6 L1734.6 882.3 L1736.8 879.5 L1739 873.5 L1741.2 867.3 L1743.4 863.3 L1745.6 860.5 L1747.9 857.7 L1750.1 855.5 L1752.3 853.8 L1754.5 852.2 L1756.7 852.7 L1758.9 856 L1761.7 859.6 L1764.4 863.5 L1767.2 866.5 L1769.4 871.2 L1771.6 877.5 L1773.8 884.3 L1776 892.3 L1778.2 902.3 L1780.4 911.7 L1782.6 920.3 L1784.8 931.1 L1787.1 943.7 L1789.3 958 L1791.5 973.1 L1793.7 988 L1795.9 1000.5 L1798.1 1010.3 L1800.3 1018.3 L1803.1 1026.3 L1805.3 1033.7 L1807.5 1037.7 L1809.1 1041.1 L1810.8 1043.1 L1813 1040.8 L1815.2 1037.4 L1817.4 1034 L1819.6 1026 L1821.8 1013.1 L1824 997.1 L1826.3 977.7 L1828.5 959.3 L1830.7 945.6 L1832.3 937.3 L1834.5 937.3 L1836.7 944.2 L1839 955.7 L1840 968.8 L1842.2 982.4 L1844.4 991.2 L1846.6 997.5 L1848.8 1000.7 L1851 1000.7 L1853.3 996.5 L1855.5 988.3 L1857.7 974 L1859.9 954.3 L1862.1 930.9 L1864.3 908.6 L1866.5 890.9 L1867.6 876.9 L1869.8 867.6 L1872 862.8 L1874.2 861.1 L1875.9 862.5 L1878.1 869.1 L1880.3 879.5 L1882.5 894 L1884.7 912.3 L1886.9 933.1 L1889.1 955.4 L1891.3 977.7 L1893.6 997.1 L1895.8 1012.3 L1898 1023 L1900.2 1029 L1902.4 1030.4 L1904.6 1031.6 L1906.3 1032.1 L1908.5 1032.2 L1910.7 1030.3 L1912.3 1027.1 L1914.5 1022.5 L1916.7 1013.7 L1919 998.3 L1921.2 980.6 L1923.4 963.9 L1925.6 948.5 L1927.2 939.3 L1929.4 939.9 L1931.7 948.5 L1933.9 961.7 L1936.1 977.7 L1938.3 994.3 L1940.5 1009.1 L1942.7 1021.1 L1944.9 1028.8 L1947.1 1034.8 L1948.8 1038.2 L1950.4 1038.2 L1952.6 1037.1 L1954.3 1038.5 L1956 1039.3 L1957.6 1038.7 L1959.8 1038.7 L1962 1037.3 L1964.2 1033.8 L1965.9 1031.1 L1967.5 1030.8 L1969.2 1029.4 L1971.4 1029.1 L1973.1 1029.4 L1975.3 1025.4 L1977.5 1016.5 L1979.7 1005.4 L1981.9 988.3 L1984.1 964 L1986.3 936.6 L1988.5 910 L1990.7 887.6 L1992.9 871.9 L1995.2 860.8 L1997.4 855 L1999.6 852.6 L2001.2 853.2 L2003.4 857.9 L2005.6 869.5 L2007.9 886.9 L2010.1 908.6 L2012.3 932.6 L2014.5 957.1 L2016.7 980.6 L2018.9 1000.3 L2021.1 1015.1 L2023.3 1025.4 L2025.5 1030.3 L2027.7 1029.7 L2029.9 1024.8 L2032.1 1016.8 L2034.4 1007.7 L2036 1002.5 L2037.7 998 L2039.3 992.8 L2041 987.1 L2043.2 978.6 L2045.4 965.1 L2047.6 952.9 L2049.8 943.1 L2052 934.6 L2054.2 925.4 L2056.4 913.4 L2058.7 897.7 L2060.9 881.3 L2063.1 867.6 L2065.3 859.7 L2067.5 856.6 L2069.7 854.4 L2071.3 851.4 L2073 848.7 L2074.7 847 L2076.3 849 L2078 858.9 L2080.2 878.3 L2082.4 904 L2084.6 932.6 L2086.8 961.7 L2089 987.7 L2091.2 1006 L2093.4 1018.8 L2095.1 1028.1 L2096.7 1031.2 L2099 1031.8 L2101.2 1031.2 L2103.4 1024.1 L2105.6 1008 L2107.8 985.4 L2110 956 L2112.2 922.3 L2114.4 890.6 L2116.6 865.5 L2118.3 849.6 L2120.5 841.3 L2122.7 838 L2124.9 835.5 L2127.1 832.2 L2129.3 828.4 L2131.5 825.3 L2133.7 825.3 L2135.4 825.9 L2137.1 826.2 L2138.7 826.7 L2140.4 827.5 L2142 828.6 L2143.7 834.7 L2145.9 846 L2148.1 860.7 L2150.3 880 L2152.5 905.2 L2154.7 933.7 L2156.9 963.4 L2159.1 993.1 L2161.3 1018.8 L2163.6 1034.8 L2165.8 1042.5 L2168 1045.6 L2169.6 1045.8 L2171.3 1043.9 L2174 1042.5 L2176.3 1041.7 L2178.5 1039.4 L2180.7 1036.2 L2182.9 1032.5 L2185.1 1028.8 L2187.3 1027.4 L2189 1028.3 L2190.6 1029.7 L2192.8 1032.5 L2195 1034.5 L2197.2 1037.1 L2199.4 1039.1 L2201.1 1038.8 L2203.3 1032 L2205.5 1019.1 L2207.7 996.3 L2209.9 965.7 L2212.1 932.6 L2214.4 904.7 L2216.6 886.4 L2218.2 877.9 L2219.9 877.9 L2221.5 880.7 L2223.2 884.3 L2224.8 888.3 L2226.5 895.7 L2228.2 907.2 L2230.4 924.9 L2232.6 946.9 L2234.8 968.3 L2237 982.6 L2239.2 987.7 L2241.4 984.3 L2243.6 974.6 L2245.8 962.6 L2248 953.1 L2250.2 947.7 L2252.5 945.7 L2254.7 946.3 L2256.9 948.9 L2259.1 951.7 L2261.3 952.9 L2263.5 952.6 L2265.7 949.7 L2267.9 944.6 L2269.6 941.4 L2271.2 943.4 L2272.9 949.4 L2274.5 956.9 L2276.2 962 L2277.9 963.1 L2279.5 964.8 L2280 968.6 L2282.2 977.1 L2284.4 992.6 L2286.6 1010.8 L2288.8 1024.7 L2291 1034.1 L2293.8 1039.2 L2296.6 1041.2 L2299.3 1042.4 L2301.5 1041.1 L2303.7 1039.8 L2306 1038.6 L2308.2 1036.4 L2310.4 1031.8 L2312.6 1028.4 L2314.8 1021.4 L2317 1011.1 L2319.2 1000.3 L2321.4 990.3 L2323.6 978.8 L2325.3 966.8 L2327.5 953.1 L2329.7 935.7 L2331.9 915.9 L2334.1 901 L2336.3 893.6 L2338.5 895.9 L2340.7 909 L2342.9 931.4 L2345.2 956 L2347.4 979.1 L2349.6 998 L2351.2 1012.5 L2353.4 1022 L2355.6 1027.4 L2357.9 1031.7 L2360.1 1036.2 L2362.3 1040.2 L2363.9 1042 L2365.6 1043.9 L2367.2 1045.8 L2368.9 1047.5 L2371.1 1047.8 L2373.3 1050.3 L2375.5 1052.2 L2377.2 1051.4 L2379.4 1046.9 L2381 1040.8 L2382.7 1031.1 L2384.4 1015.4 L2386.6 994.8 L2388.8 970.8 L2391 942.3 L2393.2 910.9 L2395.4 882.3 L2397.6 860.2 L2399.8 845.4 L2402 837.4 L2404.8 835.8 L2407.5 839 L2409.2 839.4 L2411.4 837.4 L2413.1 834.6 L2414.7 832.1 L2416.4 828.4 L2418 829 L2420.2 831 L2422.5 832.1 L2424.7 832.1 L2426.9 830.7 L2429.1 829.2 L2431.3 828.1 L2433.5 832.2 L2435.2 834.2 L2436.8 834.2 L2438.5 832.9 L2440.1 834.6 L2441.8 835.7 L2443.4 842.8 L2445.6 856.9 L2447.3 873.5 L2449 887.6 L2450.6 897.9 L2452.8 903 L2455 900.2 L2456.7 894.5 L2458.3 891.2 L2460 886.6 L2461.7 879.2 L2463.3 871.7 L2465 864.1 L2466.6 854.6 L2468.8 845.8 L2471 839.1 L2473.3 836.9 L2474.9 838.5 L2476.6 844.1 L2478.8 855.7 L2481 874.9 L2483.2 899.4 L2485.4 925.7 L2487.6 950.2 L2489.8 969.6 L2492 981.6 L2494.2 985.3 L2496.4 985 L2498.7 984 L2500.9 985.1 L2503.1 988.6 L2505.3 996.8 L2507.5 1007.1 L2509.7 1016.8 L2511.9 1023.7 L2514.1 1030.3 L2516.3 1035.1 L2518.5 1036 L2520.2 1035.7 L2521.8 1036.2 L2524 1036 L2526.3 1035.1 L2528.5 1036.5 L2530.7 1039.1 L2532.9 1041.7 L2535.1 1042.8 L2537.3 1040 L2539 1034.5 L2540.6 1026.5 L2542.8 1015.4 L2545 1003.1 L2547.2 993.9 L2549.4 987.6 L2551.1 985.9 L2552.8 989.9 L2554.4 997.9 L2556.6 1005.1 L2558.8 1009.7 L2561 1009.1 L2563.3 1001.1 L2565.5 984.8 L2567.7 961.7 L2569.9 933.1 L2572.1 903.9 L2574.3 879.6 L2576.5 863.5 L2578.2 856 L2579.8 856 L2582 858.3 L2584.2 860 L2586.4 858.6 L2588.7 857.7 L2590.9 858.8 L2592.5 866.1 L2594.2 880.7 L2596.4 904 L2598.6 932 L2600.8 960.3 L2603 983.4 L2605.2 998 L2607.4 1006 L2609.1 1010.8 L2610.7 1013.7 L2612.4 1014 L2614 1010.3 L2615.7 1002.7 L2617.4 994.4 L2619 988.4 L2620.7 986.7 L2622.3 992.4 L2624.5 1003.1 L2626.7 1013.1 L2629 1018.8 L2631.2 1020 L2633.4 1017.7 L2635.6 1013.4 L2637.8 1003.4 L2640 989.7 L2642.2 973.7 L2644.4 956.3 L2646.6 940.3 L2648.8 929.4 L2650.5 920.9 L2652.1 911.2 L2653.8 899.4 L2656 885.2 L2658.2 869.2 L2660.4 855 L2662.6 845.4 L2664.8 839.9 L2667.1 837.1 L2669.3 838.2 L2671.5 842.7 L2673.1 847.4 L2674.8 849.6 L2676.4 849.6 L2678.1 852.4 L2679.8 861.2 L2680.9 879.5 L2681.7 889.2 L2682.2 907.3 L2707.2 861.2 L2707.2 985.2 L2682.2 1038.2 L2681.7 1017.3 L2680.9 1006.1 L2679.8 985.2 L2678.1 976.4 L2676.4 973.6 L2674.8 973.6 L2673.1 971.4 L2671.5 966.7 L2669.3 962.2 L2667.1 961.1 L2664.8 963.9 L2662.6 969.4 L2660.4 979 L2658.2 994.2 L2656 1012.7 L2653.8 1029.2 L2652.1 1042.7 L2650.5 1053.9 L2648.8 1063.8 L2646.6 1076.4 L2644.4 1094.9 L2642.2 1115 L2640 1133.5 L2637.8 1149.3 L2635.6 1160.9 L2633.4 1165.8 L2631.2 1168.5 L2629 1167.2 L2626.7 1160.6 L2624.5 1149 L2622.3 1136.7 L2620.7 1130.1 L2619 1132 L2617.4 1139 L2615.7 1148.5 L2614 1157.2 L2612.4 1161.5 L2610.7 1161.2 L2609.1 1157.9 L2607.4 1152.3 L2605.2 1143.1 L2603 1126.2 L2600.8 1099.5 L2598.6 1066.8 L2596.4 1034.5 L2594.2 1007.5 L2592.5 990.7 L2590.9 982.8 L2588.7 981.7 L2586.4 982.6 L2584.2 984 L2582 982.3 L2579.8 980 L2578.2 980 L2576.5 987.7 L2574.3 1006.3 L2572.1 1034.3 L2569.9 1068.1 L2567.7 1101.1 L2565.5 1127.9 L2563.3 1146.7 L2561 1155.9 L2558.8 1156.6 L2556.6 1151.3 L2554.4 1142.9 L2552.8 1133.7 L2551.1 1129.1 L2549.4 1131 L2547.2 1138.3 L2545 1149 L2542.8 1163.2 L2540.6 1176.1 L2539 1185.3 L2537.3 1191.6 L2535.1 1194.8 L2532.9 1193.6 L2530.7 1190.6 L2528.5 1187.6 L2526.3 1186 L2524 1187 L2521.8 1187.3 L2520.2 1186.6 L2518.5 1187 L2516.3 1186 L2514.1 1180.4 L2511.9 1172.8 L2509.7 1164.8 L2507.5 1153.6 L2505.3 1141.7 L2503.1 1132.2 L2500.9 1128.2 L2498.7 1126.9 L2496.4 1128.1 L2494.2 1128.4 L2492 1124.1 L2489.8 1110.2 L2487.6 1087.8 L2485.4 1059.5 L2483.2 1029.2 L2481 1000.8 L2478.8 979.7 L2476.6 968.1 L2474.9 962.5 L2473.3 960.9 L2471 963.1 L2468.8 969.8 L2466.6 978.6 L2465 988.4 L2463.3 997.2 L2461.7 1005.7 L2460 1014.3 L2458.3 1019.6 L2456.7 1023.4 L2455 1030 L2452.8 1033.3 L2450.6 1027.4 L2449 1015.5 L2447.3 999.1 L2445.6 980.9 L2443.4 966.8 L2441.8 959.7 L2440.1 958.6 L2438.5 956.9 L2436.8 958.2 L2435.2 958.2 L2433.5 956.2 L2431.3 952.1 L2429.1 953.2 L2426.9 954.7 L2424.7 956.1 L2422.5 956.1 L2420.2 955 L2418 953 L2416.4 952.4 L2414.7 956.1 L2413.1 958.6 L2411.4 961.4 L2409.2 963.4 L2407.5 963 L2404.8 959.8 L2402 961.4 L2399.8 969.4 L2397.6 984.2 L2395.4 1009.4 L2393.2 1042.4 L2391 1078.7 L2388.8 1111.7 L2386.6 1139.4 L2384.4 1163.2 L2382.7 1181.3 L2381 1192.6 L2379.4 1198.9 L2377.2 1203.4 L2375.5 1204.2 L2373.3 1202.3 L2371.1 1199.8 L2368.9 1199.5 L2367.2 1197.8 L2365.6 1195.9 L2363.9 1193.9 L2362.3 1191.9 L2360.1 1187.3 L2357.9 1182 L2355.6 1177.1 L2353.4 1170.8 L2351.2 1159.9 L2349.6 1143.1 L2347.4 1121.3 L2345.2 1094.5 L2342.9 1066.1 L2340.7 1040.3 L2338.5 1025.1 L2336.3 1022.4 L2334.1 1031 L2331.9 1048.2 L2329.7 1071.1 L2327.5 1091.2 L2325.3 1107.1 L2323.6 1120.9 L2321.4 1134.1 L2319.2 1145.7 L2317 1158.2 L2314.8 1170.1 L2312.6 1178.2 L2310.4 1182.1 L2308.2 1187.4 L2306 1190.1 L2303.7 1191.4 L2301.5 1192.9 L2299.3 1194.4 L2296.6 1193 L2293.8 1190.7 L2291 1184.8 L2288.8 1173.9 L2286.6 1157.9 L2284.4 1136.8 L2282.2 1119 L2280 1109.1 L2279.5 1104.8 L2277.9 1102.8 L2276.2 1101.5 L2274.5 1095.5 L2272.9 1086.9 L2271.2 1080 L2269.6 1077.7 L2267.9 1081.3 L2265.7 1087.3 L2263.5 1090.6 L2261.3 1090.9 L2259.1 1089.6 L2256.9 1086.3 L2254.7 1083.3 L2252.5 1082.7 L2250.2 1085 L2248 1091.2 L2245.8 1102.1 L2243.6 1116 L2241.4 1127.2 L2239.2 1131.2 L2237 1125.2 L2234.8 1108.7 L2232.6 1084 L2230.4 1058.6 L2228.2 1038.1 L2226.5 1024.9 L2224.8 1016.3 L2223.2 1011.7 L2221.5 1007.5 L2219.9 1004.2 L2218.2 1004.2 L2216.6 1014.1 L2214.4 1035.3 L2212.1 1067.5 L2209.9 1105.8 L2207.7 1141.1 L2205.5 1167.5 L2203.3 1182.3 L2201.1 1190.3 L2199.4 1190.6 L2197.2 1188.3 L2195 1185.3 L2192.8 1183 L2190.6 1179.7 L2189 1178 L2187.3 1177.1 L2185.1 1178.7 L2182.9 1183 L2180.7 1187.3 L2178.5 1190.9 L2176.3 1193.6 L2174 1194.5 L2171.3 1195.9 L2169.6 1197.8 L2168 1197.6 L2165.8 1194.5 L2163.6 1185.6 L2161.3 1167.2 L2159.1 1137.4 L2156.9 1103.1 L2154.7 1068.8 L2152.5 1035.8 L2150.3 1006.7 L2148.1 984.7 L2145.9 970 L2143.7 958.7 L2142 952.6 L2140.4 951.5 L2138.7 950.7 L2137.1 950.2 L2135.4 949.9 L2133.7 949.3 L2131.5 949.3 L2129.3 952.4 L2127.1 956.2 L2124.9 959.5 L2122.7 962 L2120.5 965.3 L2118.3 973.6 L2116.6 989.9 L2114.4 1018.9 L2112.2 1055.6 L2110 1094.5 L2107.8 1128.5 L2105.6 1154.6 L2103.4 1173.2 L2101.2 1181.5 L2099 1182.1 L2096.7 1181.5 L2095.1 1177.8 L2093.4 1167.2 L2091.2 1152.3 L2089 1131.2 L2086.8 1101.1 L2084.6 1067.5 L2082.4 1034.5 L2080.2 1004.8 L2078 982.9 L2076.3 973 L2074.7 971 L2073 972.7 L2071.3 975.4 L2069.7 978.4 L2067.5 980.6 L2065.3 983.7 L2063.1 992.3 L2060.9 1008.2 L2058.7 1027.2 L2056.4 1045.4 L2054.2 1059.2 L2052 1069.8 L2049.8 1079.7 L2047.6 1090.9 L2045.4 1105.1 L2043.2 1120.6 L2041 1130.5 L2039.3 1137.1 L2037.7 1143.1 L2036 1148.3 L2034.4 1154.3 L2032.1 1164.8 L2029.9 1174.1 L2027.7 1179.7 L2025.5 1180.4 L2023.3 1174.7 L2021.1 1162.9 L2018.9 1145.7 L2016.7 1122.9 L2014.5 1095.9 L2012.3 1067.5 L2010.1 1039.7 L2007.9 1014.7 L2005.6 994.5 L2003.4 981.9 L2001.2 977.2 L1999.6 976.6 L1997.4 979 L1995.2 984.8 L1992.9 997.4 L1990.7 1015.5 L1988.5 1041.4 L1986.3 1072.1 L1984.1 1103.8 L1981.9 1131.8 L1979.7 1151.6 L1977.5 1164.5 L1975.3 1174.7 L1973.1 1179.4 L1971.4 1179 L1969.2 1179.4 L1967.5 1181 L1965.9 1181.3 L1964.2 1184.5 L1962 1188.5 L1959.8 1190.1 L1957.6 1190.1 L1956 1190.8 L1954.3 1189.9 L1952.6 1188.3 L1950.4 1189.6 L1948.8 1189.6 L1947.1 1185.6 L1944.9 1178.7 L1942.7 1169.8 L1940.5 1155.9 L1938.3 1138.8 L1936.1 1119.6 L1933.9 1101.1 L1931.7 1085.8 L1929.4 1075.9 L1927.2 1075.3 L1925.6 1085.8 L1923.4 1103.6 L1921.2 1122.9 L1919 1143.4 L1916.7 1161.2 L1914.5 1171.4 L1912.3 1176.7 L1910.7 1180.4 L1908.5 1182.7 L1906.3 1182.5 L1904.6 1181.9 L1902.4 1180.6 L1900.2 1178.9 L1898 1172 L1895.8 1159.6 L1893.6 1142.1 L1891.3 1119.6 L1889.1 1093.9 L1886.9 1068.1 L1884.7 1044 L1882.5 1022.9 L1880.3 1006.1 L1878.1 994.1 L1875.9 986.5 L1874.2 985.1 L1872 986.8 L1869.8 992.4 L1867.6 1003.1 L1866.5 1019.3 L1864.3 1039.7 L1862.1 1065.5 L1859.9 1092.6 L1857.7 1115.3 L1855.5 1131.8 L1853.3 1141.4 L1851 1146.2 L1848.8 1146.2 L1846.6 1142.5 L1844.4 1135.3 L1842.2 1125 L1840 1109.4 L1839 1094.2 L1836.7 1080.9 L1834.5 1072.9 L1832.3 1072.9 L1830.7 1082.5 L1828.5 1098.4 L1826.3 1119.6 L1824 1142.1 L1821.8 1160.6 L1819.6 1175.4 L1817.4 1184.6 L1815.2 1188.6 L1813 1192.6 L1810.8 1195.1 L1809.1 1192.9 L1807.5 1188.9 L1805.3 1184.3 L1803.1 1175.7 L1800.3 1166.5 L1798.1 1157.2 L1795.9 1146 L1793.7 1131.5 L1791.5 1114.3 L1789.3 1096.8 L1787.1 1080.3 L1784.8 1065.8 L1782.6 1053.3 L1780.4 1043.4 L1778.2 1032.5 L1776 1020.9 L1773.8 1011.7 L1771.6 1003.8 L1769.4 996.5 L1767.2 991.1 L1764.4 987.6 L1761.7 983.6 L1758.9 980 L1756.7 976.7 L1754.5 976.2 L1752.3 977.8 L1750.1 979.5 L1747.9 981.7 L1745.6 984.5 L1743.4 987.4 L1741.2 992 L1739 999.1 L1736.8 1006.1 L1734.6 1009.4 L1732.9 1007.4 L1730.7 1000.1 L1728.5 988.4 L1726.3 978.7 L1724.1 973.7 L1721.9 974 L1719.7 975.1 L1718 976.7 L1716.9 976.1 L1714.7 972.1 L1712.5 965.2 L1710.3 961.9 L1708.1 964.7 L1705.9 974.6 L1703.7 988.9 L1701.5 1002.8 L1699.8 1016 L1698.2 1029.2 L1696.5 1041.7 L1694.3 1055.6 L1692.1 1075.4 L1689.9 1098.5 L1687.7 1121.6 L1685.5 1143.4 L1683.3 1161.9 L1681 1178.7 L1678.3 1190.6 L1676.1 1196.2 L1673.9 1195.9 L1671.7 1195.4 L1669.4 1195.5 L1667.8 1192.8 L1666.1 1193.3 L1664.5 1193.6 L1662.8 1195.7 L1661.2 1192.8 L1659.5 1191.4 L1657.3 1186 L1655.1 1180.7 L1652.9 1166.5 L1650.7 1146.7 L1648.5 1118.6 L1646.3 1084 L1644 1045.7 L1641.8 1011 L1639.6 984.9 L1638 972.8 L1636.3 966.2 L1634.1 962.6 L1632.5 959.8 L1630.2 958.2 L1628 955.7 L1625.8 955.1 L1623.6 958.4 L1621.4 964.2 L1619.2 970.3 L1617 976.8 L1614.8 980.9 L1612.6 982.3 L1610.9 981.7 L1608.7 978 L1606.5 973 L1604.3 970.5 L1602.1 970 L1599.9 973.8 L1597.7 984.2 L1595.5 998.5 L1593.3 1011.7 L1591 1023.2 L1588.8 1033.1 L1586.6 1043 L1584.4 1057.2 L1582.2 1078.4 L1580 1103.8 L1577.8 1129.9 L1575.6 1152 L1573.4 1167.2 L1571.2 1175.9 L1568.4 1180.9 L1565.6 1182.2 L1562.9 1181.5 L1560.1 1179.9 L1557.4 1177.1 L1555.2 1173.8 L1552.9 1170.5 L1550.7 1168.5 L1548.5 1165.5 L1546.3 1165.5 L1544.1 1166.5 L1541.9 1168.5 L1539.7 1169.5 L1537.5 1172.4 L1535.3 1172.8 L1533.1 1171.1 L1530.9 1168.8 L1528.7 1167.8 L1526.4 1168.1 L1524.2 1170.1 L1522.3 1173.6 L1520.1 1177.6 L1517.3 1180.2 L1514.6 1179.6 L1512.1 1177.3 L1509.9 1171.4 L1507.7 1160.9 L1505.5 1146 L1503.3 1127.5 L1501 1103.1 L1498.8 1078 L1496.6 1058.9 L1495 1048.3 L1493.6 1046.3 L1491.9 1050.3 L1490 1054.3 L1488.3 1051.6 L1486.1 1039.7 L1483.9 1020.6 L1481.7 1001.1 L1479.5 983.3 L1477.3 971.1 L1475.6 965.6 L1474 964.5 L1471.8 965.1 L1469 968.4 L1466.3 973.8 L1463.5 976.1 L1461.3 978.3 L1459.1 981.9 L1456.9 990.2 L1454.7 1004.9 L1452.5 1025.9 L1450.2 1051.6 L1448 1080 L1445.8 1105.8 L1443.6 1128.2 L1441.4 1147 L1439.5 1158.6 L1437.5 1165.8 L1435.9 1174.4 L1434.2 1181.7 L1432 1186.6 L1429.8 1191.2 L1427.6 1193.9 L1425.4 1191.9 L1422.6 1187 L1419.9 1182.5 L1417.1 1179 L1413.8 1177.1 L1410.5 1176.7 L1406.9 1177.6 L1403.3 1178.8 L1400 1179.9 L1399 1177.9 L1396.2 1174.3 L1394 1171.8 L1392.1 1171.1 L1390.1 1170.5 L1387.9 1170.5 L1385.7 1167.8 L1383.5 1159.9 L1381.3 1145.4 L1379.1 1128.2 L1376.9 1114.3 L1374.9 1108.4 L1373.6 1111.7 L1371.3 1123.6 L1369.1 1141.1 L1366.9 1157.9 L1364.7 1170.8 L1362 1179 L1359.8 1183 L1357.5 1184.5 L1354.8 1185.5 L1352 1185.5 L1349.3 1185.2 L1346.5 1184.2 L1344.3 1181.7 L1342.4 1180.7 L1340.4 1180.9 L1338.2 1180.2 L1336 1180.2 L1334.1 1181.2 L1331.6 1179.2 L1329.4 1176.7 L1327.2 1175.3 L1324.4 1174.6 L1321.7 1174.8 L1318.9 1176.8 L1316.1 1178.8 L1313.4 1182.3 L1311.2 1185.2 L1309.2 1185 L1307 1180.7 L1304.8 1171.4 L1302.6 1154.8 L1300.4 1132.5 L1298.2 1109.1 L1296 1089.9 L1294 1077.4 L1292.1 1073.4 L1289.9 1079.4 L1287.7 1093.9 L1285.5 1111.7 L1283.3 1130.8 L1281.1 1148.1 L1278.9 1161 L1276.7 1166.3 L1274.7 1162.3 L1272.5 1148.5 L1270.3 1125.2 L1268.1 1095.9 L1265.9 1063.5 L1263.7 1032.6 L1261.5 1006.9 L1259.3 988.4 L1257.1 976.8 L1254.8 971.8 L1252.6 972.2 L1249.9 977.8 L1247.1 990.6 L1244.9 1014.7 L1242.7 1045 L1240.5 1079.4 L1238.3 1114 L1236.1 1142.4 L1233.9 1163.2 L1231.9 1176.4 L1229.4 1185.1 L1227.2 1188.4 L1225 1189.7 L1222.8 1192 L1220.6 1193.4 L1218.7 1189.9 L1216.7 1183 L1214.5 1172.4 L1212.3 1154.6 L1210.1 1130.8 L1207.9 1104.4 L1205.7 1079 L1203.5 1057.6 L1201.3 1042.2 L1199.1 1034.7 L1196.9 1031.4 L1194.7 1030.9 L1192.7 1031 L1190.5 1030.8 L1187.8 1030.5 L1184.7 1034.5 L1182.5 1044.5 L1180.3 1059.9 L1178.1 1078 L1175.9 1091.2 L1173.7 1094.5 L1171.5 1084 L1169.3 1062.2 L1167.1 1035.8 L1164.8 1015.2 L1163.2 1000 L1161 992.1 L1158.8 988.8 L1156 986.1 L1154.1 984.6 L1151.9 988.1 L1149.4 1000 L1147.2 1021.1 L1145 1051.6 L1142.8 1084.6 L1140.6 1116 L1138.3 1141.1 L1136.1 1160.2 L1133.4 1171.8 L1131.2 1178.4 L1128.4 1186 L1125.6 1194 L1124 1198 L1121.8 1198.8 L1119.6 1195.7 L1117.4 1185.4 L1115.2 1167.5 L1112.7 1146.4 L1110.5 1128.2 L1108.5 1112 L1106.3 1094.9 L1104.1 1078.4 L1101.6 1061.2 L1099.4 1041.4 L1097.2 1022.2 L1095.3 1004.6 L1093.1 993.7 L1091.4 991.7 L1089.8 992.3 L1087.5 996.3 L1085.6 1002.1 L1083.4 1004.1 L1081.5 1003.4 L1079.5 1007.1 L1077.6 1015.6 L1075.4 1030.8 L1073.2 1050 L1071.3 1067.1 L1069.3 1076.4 L1067.7 1076.4 L1065.5 1069.8 L1063.8 1064.8 L1062.1 1058.2 L1060.5 1053.6 L1058.8 1056.2 L1057.2 1066.1 L1055.5 1077.4 L1053.3 1093.1 L1051.1 1109.6 L1048.9 1117.5 L1047 1112.2 L1045 1094.4 L1042.8 1066.8 L1040.6 1035.8 L1038.7 1006.6 L1036.7 984.8 L1034.5 973.1 L1032.3 968.4 L1029.6 966.2 L1027.4 964 L1025.2 962.1 L1022.9 961.2 L1020.7 960.3 L1018.5 960.8 L1016.6 961.9 L1013.8 961.8 L1011.1 962.2 L1008.3 965.6 L1005.6 969.8 L1003.6 976.8 L1002 986.3 L999.2 992.9 L996.4 993.9 L993.7 992.3 L991.7 987.9 L989.8 985.8 L987.6 984.7 L985.4 983.4 L982.6 981.5 L980.7 982.7 L978.5 983.6 L976 989.6 L973.8 992.4 L972.4 1000.8 L947.4 1010.4Z" fill="#000" stroke="#000" stroke-width="5" stroke-linejoin="round"/></g>
<line x1="971.7" y1="891.3" x2="2683.6" y2="891.3" stroke="#e5654a" stroke-width="4.8"/>
<path d="M972.4 963 L973.8 946.5 L976 929.9 L978.5 918.3 L980.7 927.7 L982.6 935.4 L985.4 942.3 L987.6 923.8 L989.8 927.7 L991.7 934 L993.7 941 L996.4 952 L999.2 942.3 L1002 934 L1003.6 929.9 L1005.6 913.3 L1008.3 904.2 L1011.1 907.3 L1013.8 913.3 L1016.6 912.8 L1018.5 911.1 L1020.7 905.1 L1022.9 901.7 L1025.2 910.6 L1027.4 917.5 L1029.6 915.6 L1032.3 914.7 L1034.5 912.8 L1036.7 921.6 L1038.7 941 L1040.6 974.1 L1042.8 1007.2 L1045 1034.8 L1047 1051.4 L1048.9 1056.3 L1051.1 1048.6 L1053.3 1029.3 L1055.5 1001.7 L1057.2 982.4 L1058.8 990.6 L1060.5 1001.7 L1062.1 987.9 L1063.8 990.6 L1065.5 1001.7 L1067.7 1018.3 L1069.3 1022.4 L1071.3 1015.5 L1073.2 990.6 L1075.4 963 L1077.6 946.5 L1079.5 942.3 L1081.5 952 L1083.4 954.8 L1085.6 947.9 L1087.5 949.2 L1089.8 934 L1091.4 927.7 L1093.1 938.2 L1095.3 945.1 L1097.2 957.5 L1099.4 979.6 L1101.6 1001.7 L1104.1 1018.3 L1106.3 1027.9 L1108.5 1029.3 L1110.5 1048.6 L1112.7 1073.5 L1115.2 1085.9 L1117.4 1103.8 L1119.6 1117.6 L1121.8 1123.7 L1124 1117.6 L1125.6 1101.1 L1128.4 1099.7 L1131.2 1098.3 L1133.4 1090 L1136.1 1085.9 L1138.3 1073.5 L1140.6 1051.4 L1142.8 1018.3 L1145 985.1 L1147.2 954.8 L1149.4 935.4 L1151.9 923.8 L1154.1 929.9 L1156 935.4 L1158.8 938.2 L1161 943.2 L1163.2 935.4 L1164.8 943.7 L1167.1 968.6 L1169.3 1001.7 L1171.5 1029.3 L1173.7 1045.9 L1175.9 1034.8 L1178.1 1012.7 L1180.3 987.9 L1182.5 974.1 L1184.7 969.9 L1187.8 970.5 L1190.5 970.8 L1192.7 971.3 L1194.7 975.5 L1196.9 970.8 L1199.1 969.9 L1201.3 972.7 L1203.5 985.1 L1205.7 1007.2 L1207.9 1034.8 L1210.1 1059.7 L1212.3 1079 L1214.5 1095.6 L1216.7 1106.6 L1218.7 1109.4 L1220.6 1103.8 L1222.8 1108 L1225 1109.9 L1227.2 1101.1 L1229.4 1099.7 L1231.9 1098.3 L1233.9 1094.2 L1236.1 1073.5 L1238.3 1045.9 L1240.5 1012.7 L1242.7 979.6 L1244.9 949.2 L1247.1 929.9 L1249.9 918.9 L1252.6 912 L1254.8 918.9 L1257.1 921.6 L1259.3 927.7 L1261.5 943.7 L1263.7 968.6 L1265.9 996.2 L1268.1 1029.3 L1270.3 1056.9 L1272.5 1079 L1274.7 1091.4 L1276.7 1093.3 L1278.9 1087.3 L1281.1 1073.5 L1283.3 1056.9 L1285.5 1037.6 L1287.7 1021 L1289.9 1007.2 L1292.1 998.9 L1294 996.2 L1296 1012.7 L1298.2 1037.6 L1300.4 1059.7 L1302.6 1079 L1304.8 1094.2 L1307 1106 L1309.2 1107.1 L1311.2 1098.3 L1313.4 1096.9 L1316.1 1095 L1318.9 1094.2 L1321.7 1092.2 L1324.4 1090 L1327.2 1088.7 L1329.4 1094.2 L1331.6 1096.9 L1334.1 1098.3 L1336 1100.5 L1338.2 1096.9 L1340.4 1090 L1342.4 1096.9 L1344.3 1101.1 L1346.5 1099.7 L1349.3 1101.1 L1352 1100.5 L1354.8 1101.1 L1357.5 1102.5 L1359.8 1099.7 L1362 1096.9 L1364.7 1094.2 L1366.9 1084.5 L1369.1 1067.9 L1371.3 1045.9 L1373.6 1026.5 L1374.9 1021 L1376.9 1034.8 L1379.1 1054.1 L1381.3 1070.7 L1383.5 1084.5 L1385.7 1092.8 L1387.9 1095.6 L1390.1 1087.3 L1392.1 1081.7 L1394 1084.5 L1396.2 1095.6 L1399 1098.3 L1400 1097.8 L1403.3 1096.9 L1406.9 1092.8 L1410.5 1090.9 L1413.8 1093.3 L1417.1 1094.2 L1419.9 1098.3 L1422.6 1101.1 L1425.4 1105.2 L1427.6 1112.1 L1429.8 1114.9 L1432 1106.6 L1434.2 1090 L1435.9 1085.9 L1437.5 1091.4 L1439.5 1084.5 L1441.4 1070.7 L1443.6 1059.7 L1445.8 1037.6 L1448 1012.7 L1450.2 990.6 L1452.5 963 L1454.7 941 L1456.9 929.9 L1459.1 924.9 L1461.3 929.4 L1463.5 924.4 L1466.3 923 L1469 918.9 L1471.8 913.3 L1474 902.3 L1475.6 907.8 L1477.3 920.2 L1479.5 924.4 L1481.7 941 L1483.9 963 L1486.1 985.1 L1488.3 1001.7 L1490 1004.4 L1491.9 990.6 L1493.6 974.1 L1495 968.6 L1496.6 985.1 L1498.8 1012.7 L1501 1034.8 L1503.3 1054.1 L1505.5 1073.5 L1507.7 1087.3 L1509.9 1090 L1512.1 1096.9 L1514.6 1098.3 L1517.3 1097.8 L1520.1 1096.9 L1522.3 1092.8 L1524.2 1085.9 L1526.4 1081.7 L1528.7 1083.1 L1530.9 1088.7 L1533.1 1091.4 L1535.3 1090 L1537.5 1091.4 L1539.7 1090 L1541.9 1087.3 L1544.1 1079 L1546.3 1085.9 L1548.5 1083.1 L1550.7 1085.9 L1552.9 1087.3 L1555.2 1091.4 L1557.4 1094.2 L1560.1 1096.9 L1562.9 1099.7 L1565.6 1099.1 L1568.4 1098.3 L1571.2 1096.9 L1573.4 1091.4 L1575.6 1079 L1577.8 1062.4 L1580 1034.8 L1582.2 1004.4 L1584.4 982.4 L1586.6 972.7 L1588.8 974.1 L1591 975.5 L1593.3 963 L1595.5 941 L1597.7 924.4 L1599.9 918.9 L1602.1 913.9 L1604.3 911.1 L1606.5 921.6 L1608.7 927.1 L1610.9 931.3 L1612.6 938.7 L1614.8 929.9 L1617 924.4 L1619.2 920.2 L1621.4 910.6 L1623.6 906.4 L1625.8 899.5 L1628 895.4 L1630.2 903.7 L1632.5 913.3 L1634.1 918.9 L1636.3 907.8 L1638 909.2 L1639.6 921.6 L1641.8 946.5 L1644 979.6 L1646.3 1018.3 L1648.5 1054.1 L1650.7 1081.7 L1652.9 1091.4 L1655.1 1096.9 L1657.3 1101.1 L1659.5 1113.5 L1661.2 1103.8 L1662.8 1114.3 L1664.5 1102.5 L1666.1 1114.3 L1667.8 1103.8 L1669.4 1102.5 L1671.7 1112.1 L1673.9 1114.9 L1676.1 1113.5 L1678.3 1106.6 L1681 1103.8 L1683.3 1087.3 L1685.5 1065.2 L1687.7 1043.1 L1689.9 1029.3 L1692.1 1012.7 L1694.3 990.6 L1696.5 968.6 L1698.2 960.3 L1699.8 971.3 L1701.5 960.3 L1703.7 935.4 L1705.9 913.3 L1708.1 902.3 L1710.3 901.7 L1712.5 910.6 L1714.7 921.6 L1716.9 929.9 L1718 936.8 L1719.7 921.6 L1721.9 913.3 L1724.1 913.9 L1726.3 924.4 L1728.5 935.4 L1730.7 946.5 L1732.9 960.3 L1734.6 963 L1736.8 954.8 L1739 943.7 L1741.2 932.7 L1743.4 931.3 L1745.6 933.2 L1747.9 935.4 L1750.1 929.9 L1752.3 918.9 L1754.5 920.2 L1756.7 924.4 L1758.9 927.7 L1761.7 932.1 L1764.4 935.4 L1767.2 938.2 L1769.4 943.7 L1771.6 942.3 L1773.8 954.8 L1776 965.8 L1778.2 971.3 L1780.4 982.4 L1782.6 990.6 L1784.8 1000.3 L1787.1 1007.2 L1789.3 1023.8 L1791.5 1043.1 L1793.7 1059.7 L1795.9 1073.5 L1798.1 1079 L1800.3 1084.5 L1803.1 1090 L1805.3 1098.3 L1807.5 1112.1 L1809.1 1114.9 L1810.8 1103.8 L1813 1106.6 L1815.2 1108 L1817.4 1101.1 L1819.6 1098.3 L1821.8 1087.3 L1824 1067.9 L1826.3 1045.9 L1828.5 1023.8 L1830.7 1004.4 L1832.3 998.4 L1834.5 1001.7 L1836.7 1005.8 L1839 1023.8 L1840 1037.6 L1842.2 1054.1 L1844.4 1065.2 L1846.6 1071.3 L1848.8 1066.6 L1851 1067.9 L1853.3 1069.3 L1855.5 1065.2 L1857.7 1051.4 L1859.9 1026.5 L1862.1 998.9 L1864.3 974.1 L1866.5 952 L1867.6 943.7 L1869.8 941 L1872 931.3 L1874.2 929.4 L1875.9 928.5 L1878.1 935.4 L1880.3 947.9 L1882.5 963 L1884.7 979.6 L1886.9 998.9 L1889.1 1023.8 L1891.3 1048.6 L1893.6 1070.7 L1895.8 1087.3 L1898 1092.8 L1900.2 1096.9 L1902.4 1100.5 L1904.6 1099.7 L1906.3 1094.2 L1908.5 1098.3 L1910.7 1099.7 L1912.3 1101.1 L1914.5 1090 L1916.7 1079 L1919 1076.2 L1921.2 1056.9 L1923.4 1026.5 L1925.6 1004.4 L1927.2 998.4 L1929.4 1001.7 L1931.7 1012.7 L1933.9 1029.3 L1936.1 1045.9 L1938.3 1062.4 L1940.5 1079 L1942.7 1092.8 L1944.9 1101.1 L1947.1 1103.8 L1948.8 1099.7 L1950.4 1108 L1952.6 1109.4 L1954.3 1101.1 L1956 1098.3 L1957.6 1106.6 L1959.8 1111.6 L1962 1106.6 L1964.2 1101.1 L1965.9 1091.4 L1967.5 1090 L1969.2 1098.3 L1971.4 1105.2 L1973.1 1094.2 L1975.3 1090 L1977.5 1091.4 L1979.7 1079 L1981.9 1062.4 L1984.1 1040.3 L1986.3 1007.2 L1988.5 974.1 L1990.7 946.5 L1992.9 934 L1995.2 932.1 L1997.4 931.3 L1999.6 920.2 L2001.2 917.5 L2003.4 921.6 L2005.6 935.4 L2007.9 954.8 L2010.1 976.8 L2012.3 1001.7 L2014.5 1026.5 L2016.7 1051.4 L2018.9 1073.5 L2021.1 1090 L2023.3 1096.9 L2025.5 1098.3 L2027.7 1101.1 L2029.9 1096.9 L2032.1 1087.3 L2034.4 1073.5 L2036 1059.7 L2037.7 1056.9 L2039.3 1072.1 L2041 1065.2 L2043.2 1048.6 L2045.4 1032.1 L2047.6 1015.5 L2049.8 1007.2 L2052 1005.8 L2054.2 1001.7 L2056.4 990.6 L2058.7 971.3 L2060.9 949.2 L2063.1 929.9 L2065.3 922.2 L2067.5 924.4 L2069.7 932.7 L2071.3 934 L2073 918.9 L2074.7 907.3 L2076.3 910.6 L2078 924.4 L2080.2 943.7 L2082.4 968.6 L2084.6 1001.7 L2086.8 1034.8 L2089 1062.4 L2091.2 1084.5 L2093.4 1094.2 L2095.1 1090 L2096.7 1096.9 L2099 1107.1 L2101.2 1099.7 L2103.4 1096.9 L2105.6 1087.3 L2107.8 1062.4 L2110 1029.3 L2112.2 990.6 L2114.4 954.8 L2116.6 924.4 L2118.3 909.2 L2120.5 907.8 L2122.7 912 L2124.9 913.3 L2127.1 907.8 L2129.3 896.8 L2131.5 891.3 L2133.7 892.6 L2135.4 898.2 L2137.1 907.8 L2138.7 899.5 L2140.4 892.6 L2142 895.4 L2143.7 902.3 L2145.9 913.3 L2148.1 929.9 L2150.3 949.2 L2152.5 968.6 L2154.7 996.2 L2156.9 1034.8 L2159.1 1067.9 L2161.3 1092.8 L2163.6 1112.1 L2165.8 1120.4 L2168 1112.1 L2169.6 1105.2 L2171.3 1108 L2174 1113.5 L2176.3 1110.7 L2178.5 1105.2 L2180.7 1101.1 L2182.9 1096.9 L2185.1 1098.3 L2187.3 1092.8 L2189 1087.3 L2190.6 1094.2 L2192.8 1101.1 L2195 1105.2 L2197.2 1106.6 L2199.4 1096.9 L2201.1 1106.6 L2203.3 1110.7 L2205.5 1103.8 L2207.7 1073.5 L2209.9 1034.8 L2212.1 996.2 L2214.4 963 L2216.6 943.7 L2218.2 938.7 L2219.9 946.5 L2221.5 954.8 L2223.2 963 L2224.8 957.5 L2226.5 956.1 L2228.2 965.8 L2230.4 990.6 L2232.6 1018.3 L2234.8 1043.1 L2237 1062.4 L2239.2 1069.3 L2241.4 1059.7 L2243.6 1043.1 L2245.8 1026.5 L2248 1015.5 L2250.2 1011.3 L2252.5 1014.1 L2254.7 1016.9 L2256.9 1016.9 L2259.1 1018.3 L2261.3 1023.8 L2263.5 1027.9 L2265.7 1022.4 L2267.9 1015.5 L2269.6 1004.4 L2271.2 998.9 L2272.9 1012.7 L2274.5 1032.1 L2276.2 1044.5 L2277.9 1040.3 L2279.5 1023.8 L2280 1018.3 L2282.2 1040.3 L2284.4 1062.4 L2286.6 1081.7 L2288.8 1098.3 L2291 1106.6 L2293.8 1107.1 L2296.6 1108 L2299.3 1106.6 L2301.5 1108 L2303.7 1112.1 L2306 1101.1 L2308.2 1101.6 L2310.4 1101.1 L2312.6 1096.9 L2314.8 1090 L2317 1084.5 L2319.2 1067.9 L2321.4 1051.4 L2323.6 1044.5 L2325.3 1041.7 L2327.5 1029.3 L2329.7 1010 L2331.9 985.1 L2334.1 960.3 L2336.3 945.9 L2338.5 957.5 L2340.7 974.1 L2342.9 996.2 L2345.2 1023.8 L2347.4 1054.1 L2349.6 1076.2 L2351.2 1085.9 L2353.4 1087.3 L2355.6 1094.2 L2357.9 1099.7 L2360.1 1102.5 L2362.3 1106.6 L2363.9 1109.4 L2365.6 1113.5 L2367.2 1108 L2368.9 1112.1 L2371.1 1116.3 L2373.3 1117.6 L2375.5 1114.9 L2377.2 1120.4 L2379.4 1121.8 L2381 1112.1 L2382.7 1095.6 L2384.4 1084.5 L2386.6 1073.5 L2388.8 1045.9 L2391 1012.7 L2393.2 979.6 L2395.4 946.5 L2397.6 921.6 L2399.8 907.8 L2402 905.6 L2404.8 905.6 L2407.5 906.4 L2409.2 913.3 L2411.4 923.8 L2413.1 907.8 L2414.7 895.4 L2416.4 892.6 L2418 900.9 L2420.2 905.1 L2422.5 911.1 L2424.7 905.1 L2426.9 898.2 L2429.1 900.9 L2431.3 898.2 L2433.5 903.7 L2435.2 899.5 L2436.8 918.9 L2438.5 910.6 L2440.1 898.2 L2441.8 897.3 L2443.4 907.8 L2445.6 924.4 L2447.3 946.5 L2449 968.6 L2450.6 978.2 L2452.8 976.3 L2455 974.1 L2456.7 971.3 L2458.3 954.8 L2460 950.6 L2461.7 960.3 L2463.3 952 L2465 935.4 L2466.6 918.9 L2468.8 913.9 L2471 912.8 L2473.3 907.8 L2474.9 902.3 L2476.6 907.8 L2478.8 921.6 L2481 941 L2483.2 965.8 L2485.4 996.2 L2487.6 1026.5 L2489.8 1048.6 L2492 1059.1 L2494.2 1059.7 L2496.4 1054.1 L2498.7 1044.5 L2500.9 1047.2 L2503.1 1054.1 L2505.3 1065.2 L2507.5 1070.7 L2509.7 1084.5 L2511.9 1096.9 L2514.1 1101.1 L2516.3 1098.3 L2518.5 1102.5 L2520.2 1108 L2521.8 1101.1 L2524 1099.7 L2526.3 1101.1 L2528.5 1101.1 L2530.7 1103.8 L2532.9 1108 L2535.1 1112.1 L2537.3 1113.5 L2539 1106.6 L2540.6 1090 L2542.8 1081.7 L2545 1073.5 L2547.2 1059.7 L2549.4 1047.2 L2551.1 1045.3 L2552.8 1051.4 L2554.4 1065.2 L2556.6 1079 L2558.8 1085.9 L2561 1080.4 L2563.3 1073.5 L2565.5 1062.4 L2567.7 1040.3 L2569.9 1007.2 L2572.1 968.6 L2574.3 935.4 L2576.5 921.1 L2578.2 923 L2579.8 929.4 L2582 931.3 L2584.2 935.4 L2586.4 932.7 L2588.7 931.3 L2590.9 922.2 L2592.5 927.1 L2594.2 941 L2596.4 968.6 L2598.6 1001.7 L2600.8 1034.8 L2603 1062.4 L2605.2 1077.6 L2607.4 1080.4 L2609.1 1072.1 L2610.7 1073.5 L2612.4 1085.9 L2614 1091.4 L2615.7 1081.7 L2617.4 1054.1 L2619 1037 L2620.7 1045.9 L2622.3 1062.4 L2624.5 1073.5 L2626.7 1081.7 L2629 1088.7 L2631.2 1094.2 L2633.4 1090 L2635.6 1079 L2637.8 1070.7 L2640 1067.9 L2642.2 1045.9 L2644.4 1023.8 L2646.6 1001.7 L2648.8 986.5 L2650.5 990.6 L2652.1 993.4 L2653.8 982.4 L2656 954.8 L2658.2 929.9 L2660.4 921.6 L2662.6 916.1 L2664.8 912.8 L2667.1 906.4 L2669.3 902.3 L2671.5 907.8 L2673.1 921.6 L2674.8 935.4 L2676.4 929.9 L2678.1 913.3 L2679.8 907.8 L2680.9 935.4 L2681.7 979.6 L2682.2 1018.3" fill="none" stroke="#40379b" stroke-width="4.3" stroke-linejoin="round" stroke-linecap="round"/>
</g>
<rect x="971.7" y="834.0" width="1711.9" height="382.3" fill="none" stroke="#9a9a9c" stroke-width="1.7"/>
<line x1="971.7" y1="1216" x2="971.7" y2="1227" stroke="#8c8c8c" stroke-width="2"/>
<text x="971.7" y="1255.2" text-anchor="middle" font-size="23.2" textLength="44" lengthAdjust="spacing" fill="#222">170</text>
<line x1="1206.9" y1="1216" x2="1206.9" y2="1227" stroke="#8c8c8c" stroke-width="2"/>
<text x="1206.9" y="1255.2" text-anchor="middle" font-size="23.2" textLength="44" lengthAdjust="spacing" fill="#222">180</text>
<line x1="1442.2" y1="1216" x2="1442.2" y2="1227" stroke="#8c8c8c" stroke-width="2"/>
<text x="1442.2" y="1255.2" text-anchor="middle" font-size="23.2" textLength="44" lengthAdjust="spacing" fill="#222">190</text>
<line x1="1677.4" y1="1216" x2="1677.4" y2="1227" stroke="#8c8c8c" stroke-width="2"/>
<text x="1677.4" y="1255.2" text-anchor="middle" font-size="23.2" textLength="44" lengthAdjust="spacing" fill="#222">200</text>
<line x1="1912.6" y1="1216" x2="1912.6" y2="1227" stroke="#8c8c8c" stroke-width="2"/>
<text x="1912.6" y="1255.2" text-anchor="middle" font-size="23.2" textLength="44" lengthAdjust="spacing" fill="#222">210</text>
<line x1="2147.9" y1="1216" x2="2147.9" y2="1227" stroke="#8c8c8c" stroke-width="2"/>
<text x="2147.9" y="1255.2" text-anchor="middle" font-size="23.2" textLength="44" lengthAdjust="spacing" fill="#222">220</text>
<line x1="2383.1" y1="1216" x2="2383.1" y2="1227" stroke="#8c8c8c" stroke-width="2"/>
<text x="2383.1" y="1255.2" text-anchor="middle" font-size="23.2" textLength="44" lengthAdjust="spacing" fill="#222">230</text>
<line x1="2618.3" y1="1216" x2="2618.3" y2="1227" stroke="#8c8c8c" stroke-width="2"/>
<text x="2618.3" y="1255.2" text-anchor="middle" font-size="23.2" textLength="44" lengthAdjust="spacing" fill="#222">240</text>
<line x1="962" y1="865.2" x2="971.7" y2="865.2" stroke="#8c8c8c" stroke-width="2"/>
<text x="953.3" y="873.5" text-anchor="end" font-size="23.2" textLength="12.6" lengthAdjust="spacingAndGlyphs" fill="#222">2</text>
<line x1="962" y1="952.1" x2="971.7" y2="952.1" stroke="#8c8c8c" stroke-width="2"/>
<text x="953.3" y="960.4" text-anchor="end" font-size="23.2" textLength="12.6" lengthAdjust="spacingAndGlyphs" fill="#222">1</text>
<line x1="962" y1="1038.9" x2="971.7" y2="1038.9" stroke="#8c8c8c" stroke-width="2"/>
<text x="953.3" y="1047.2" text-anchor="end" font-size="23.2" textLength="12.6" lengthAdjust="spacingAndGlyphs" fill="#222">0</text>
<line x1="962" y1="1125.8" x2="971.7" y2="1125.8" stroke="#8c8c8c" stroke-width="2"/>
<text x="953.3" y="1134" text-anchor="end" font-size="23.2" textLength="23.5" lengthAdjust="spacingAndGlyphs" fill="#222">-1</text>
<line x1="962" y1="1212.6" x2="971.7" y2="1212.6" stroke="#8c8c8c" stroke-width="2"/>
<text x="953.3" y="1220.9" text-anchor="end" font-size="23.2" textLength="23.5" lengthAdjust="spacingAndGlyphs" fill="#222">-2</text>
<text x="1662.71" y="1319.6" font-size="27.8" textLength="278.06" lengthAdjust="spacingAndGlyphs" fill="#1a1a1a">Chromosome 2 (Mb)</text>
<text transform="translate(879.5 1183.76) rotate(-90)" font-size="28" textLength="306.38" lengthAdjust="spacingAndGlyphs" fill="#1a1a1a">Replication timing ratio</text>
<text transform="translate(914 1183.67) rotate(-90)" font-size="28" textLength="56.36" lengthAdjust="spacingAndGlyphs" fill="#31589b">Late</text>
<text transform="translate(914 937.97) rotate(-90)" font-size="28" textLength="62.77" lengthAdjust="spacingAndGlyphs" fill="#31589b">Early</text>
<rect x="905.9" y="968" width="5.4" height="150.5" fill="#7f7f7f"/>
<path d="M900.7 972.8 L915.7 972.8 L908.5 944.5Z" fill="#7f7f7f"/>

<!-- diagram -->
<line x1="986.9" y1="1428.5" x2="986.9" y2="1741" stroke="#000" stroke-width="2.8"/>
<line x1="987.9" y1="1805.5" x2="987.9" y2="2135" stroke="#000" stroke-width="2.8"/>
<line x1="1014.6" y1="1463.8" x2="2815.6" y2="1463.8" stroke="#000" stroke-width="7"/>
<line x1="1014.6" y1="1586.7" x2="2815.6" y2="1586.7" stroke="#000" stroke-width="7"/>
<line x1="1014.6" y1="1703.1" x2="2815.6" y2="1703.1" stroke="#000" stroke-width="7"/>
<line x1="1014.6" y1="1835.9" x2="2815.6" y2="1835.9" stroke="#000" stroke-width="7"/>
<line x1="1014.6" y1="1949.1" x2="2815.6" y2="1949.1" stroke="#000" stroke-width="7"/>
<rect x="1036.1" y="1485.9" width="7.2" height="48.8" fill="#000"/><path d="M1029.3 1533.7 L1050.1 1533.7 L1039.7 1570.1Z" fill="#000"/>
<rect x="1037.6" y="1605.4" width="7.2" height="47.9" fill="#000"/><path d="M1030.8 1652.3 L1051.6 1652.3 L1041.2 1689.3Z" fill="#000"/>
<rect x="1036.1" y="1731.6" width="7.2" height="48.2" fill="#000"/><path d="M1029.3 1778.8 L1050.1 1778.8 L1039.7 1815.2Z" fill="#000"/>
<rect x="1036.1" y="1852.5" width="7.2" height="47.9" fill="#000"/><path d="M1029.3 1899.4 L1050.1 1899.4 L1039.7 1935.3Z" fill="#000"/>
<rect x="1036.1" y="1961.5" width="7.2" height="47.9" fill="#000"/><path d="M1029.3 2008.4 L1050.1 2008.4 L1039.7 2044.3Z" fill="#000"/>
<rect x="1603.4" y="1431.4" width="17.6" height="64.7" rx="9" fill="#fff" stroke="#0b6a3b" stroke-width="6.4"/>
<rect x="1662.4" y="1431.4" width="17.4" height="64.7" rx="9" fill="#fff" stroke="#0b6a3b" stroke-width="6.4"/>
<rect x="1787.8" y="1431.4" width="17.3" height="64.7" rx="9" fill="#fff" stroke="#0b6a3b" stroke-width="6.4"/>
<rect x="2043.4" y="1431.4" width="17.3" height="64.7" rx="9" fill="#fff" stroke="#0b6a3b" stroke-width="6.4"/>
<rect x="1574.4" y="1554.5" width="141.3" height="64.3" rx="17" fill="#fff" stroke="#0b6a3b" stroke-width="6.4"/>
<rect x="1757.9" y="1554.5" width="98.5" height="64.3" rx="17" fill="#fff" stroke="#0b6a3b" stroke-width="6.4"/>
<rect x="2008.3" y="1553.1" width="97.9" height="64.3" rx="17" fill="#fff" stroke="#0b6a3b" stroke-width="6.4"/>
<rect x="1446.2" y="1671.3" width="774.6" height="64" rx="16" fill="#fff" stroke="#0b6a3b" stroke-width="6.4"/>
<rect x="1453" y="1804.2" width="759" height="63.4" fill="#fff"/>
<line x1="1453" y1="1804.2" x2="2212" y2="1804.2" stroke="#0b6a3b" stroke-width="6.4"/>
<line x1="1453" y1="1867.6" x2="2212" y2="1867.6" stroke="#0b6a3b" stroke-width="6.4"/>
<rect x="1119.3" y="1804.1" width="17.1" height="64.5" rx="9" fill="#fff" stroke="#662d91" stroke-width="6.4"/>
<rect x="1177.9" y="1804.1" width="17.3" height="64.5" rx="9" fill="#fff" stroke="#662d91" stroke-width="6.4"/>
<rect x="1444.2" y="1804.1" width="17.6" height="64.5" rx="9" fill="#fff" stroke="#662d91" stroke-width="6.4"/>
<rect x="2203.2" y="1804.1" width="17.6" height="64.5" rx="9" fill="#fff" stroke="#662d91" stroke-width="6.4"/>
<rect x="2444.2" y="1804.1" width="17.6" height="64.5" rx="9" fill="#fff" stroke="#662d91" stroke-width="6.4"/>
<rect x="2660.9" y="1804.1" width="17.6" height="64.5" rx="9" fill="#fff" stroke="#662d91" stroke-width="6.4"/>
<rect x="1440" y="1917.3" width="790" height="63.5" fill="#fff"/>
<line x1="1440" y1="1917.3" x2="2230" y2="1917.3" stroke="#0b6a3b" stroke-width="6.4"/>
<line x1="1440" y1="1980.8" x2="2230" y2="1980.8" stroke="#0b6a3b" stroke-width="6.4"/>
<rect x="1083.2" y="1916.8" width="141.5" height="64.1" rx="18" fill="#fff" stroke="#662d91" stroke-width="6.4"/>
<rect x="1365.6" y="1916.8" width="96.5" height="64.1" rx="18" fill="#fff" stroke="#662d91" stroke-width="6.4"/>
<rect x="2203.2" y="1916.8" width="99.9" height="64.1" rx="18" fill="#fff" stroke="#662d91" stroke-width="6.4"/>
<rect x="2408.3" y="1916.8" width="98.5" height="64.1" rx="18" fill="#fff" stroke="#662d91" stroke-width="6.4"/>
<rect x="2620" y="1916.8" width="98.5" height="64.1" rx="18" fill="#fff" stroke="#662d91" stroke-width="6.4"/>
<line x1="1020.6" y1="2056.7" x2="1463.5" y2="2056.7" stroke="#662d91" stroke-width="7"/>
<line x1="1463.1" y1="2056.7" x2="2236" y2="2056.7" stroke="#0b6a3b" stroke-width="7"/>
<line x1="2235.9" y1="2056.7" x2="2817.8" y2="2056.7" stroke="#662d91" stroke-width="7"/>
<line x1="1022" y1="2120.8" x2="1460" y2="2120.8" stroke="#662d91" stroke-width="7"/>
<line x1="1459.5" y1="2120.8" x2="2236" y2="2120.8" stroke="#0b6a3b" stroke-width="7"/>
<line x1="2235.9" y1="2120.8" x2="2817" y2="2120.8" stroke="#662d91" stroke-width="7"/>
<g font-weight="bold" fill="#000" stroke="#000" stroke-width="1.2" stroke-linejoin="round">
<text transform="translate(918.5 1684.26) rotate(-90)" font-size="45.5" textLength="169.20" lengthAdjust="spacingAndGlyphs">S-phase</text>
<text transform="translate(953.9 1684.79) rotate(-90)" font-size="45.5" textLength="167.84" lengthAdjust="spacingAndGlyphs">précoce</text>
<text transform="translate(931.2 2046.65) rotate(-90)" font-size="45.5" textLength="168.70" lengthAdjust="spacingAndGlyphs">S-phase</text>
<text transform="translate(966.3 2037.40) rotate(-90)" font-size="45.5" textLength="151.32" lengthAdjust="spacingAndGlyphs">tardive</text>
</g>
</svg>

<div id="dprec"><span class="abs dp" id="dp1">DOMAINES</span> <span class="abs dp" id="dp2">PRECOCES</span></div>
<div id="dtard"><span class="abs dt" id="dt1">DOMAINES</span> <span class="abs dt" id="dt2">TARDIFS</span></div>
<div class="abs" id="cite">Adapté de Ryba, et al., Nat Protoc 6, 870–895 (2011)</div>
</body></html>
